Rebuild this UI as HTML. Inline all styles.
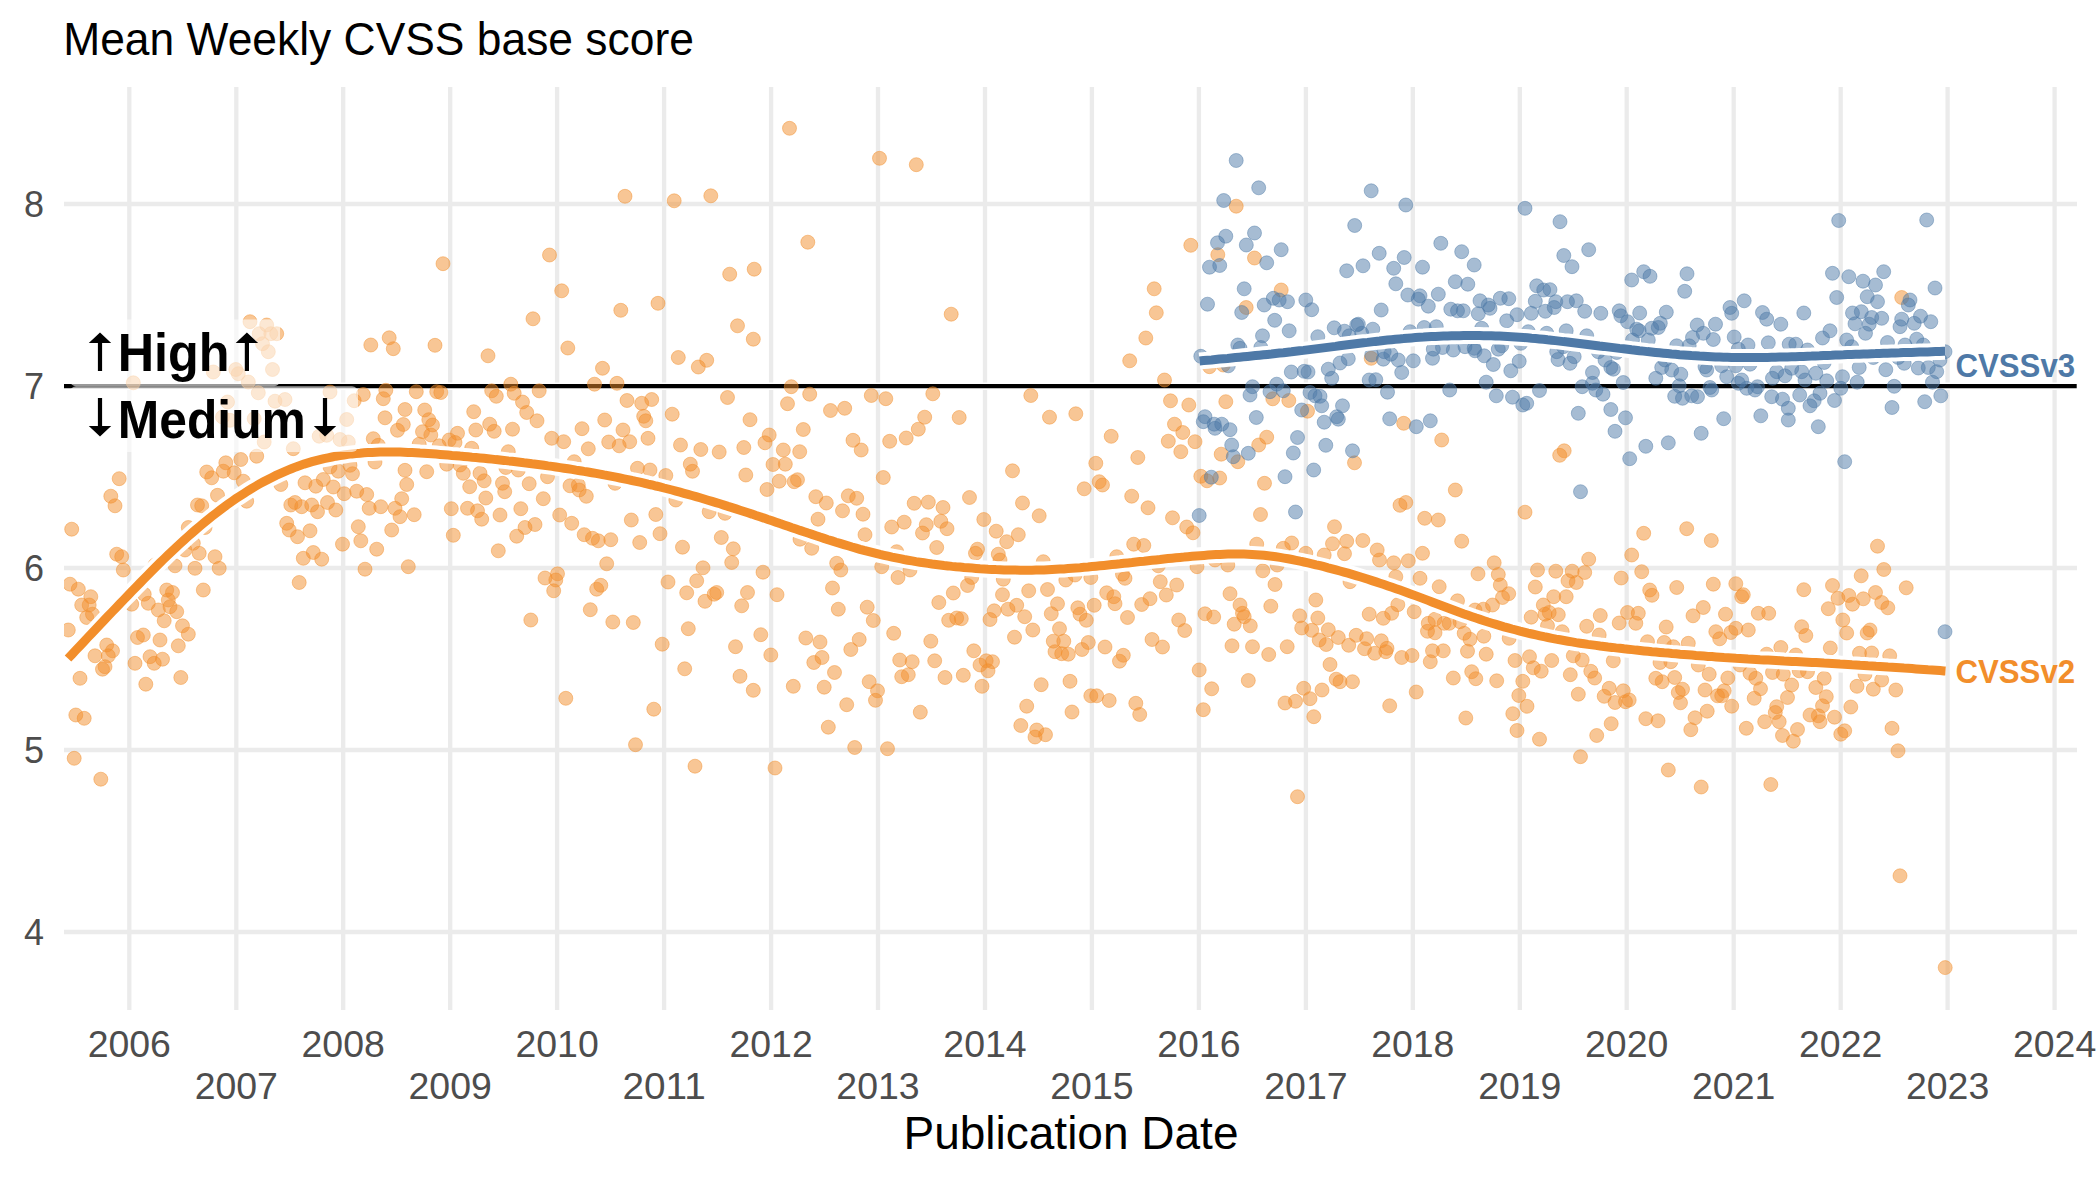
<!DOCTYPE html><html><head><meta charset="utf-8"><style>html,body{margin:0;padding:0;background:#fff;overflow:hidden}</style></head><body><svg width="2100" height="1181" viewBox="0 0 2100 1181" style="display:block">
<defs><clipPath id="pc"><rect x="64" y="87" width="2013" height="923"/></clipPath></defs>
<rect width="2100" height="1181" fill="#fff"/>
<path d="M64,932.0H2077 M64,750.0H2077 M64,568.0H2077 M64,386.0H2077 M64,204.0H2077 M129.3,87V1010 M236.3,87V1010 M343.2,87V1010 M450.2,87V1010 M557.1,87V1010 M664.1,87V1010 M771.1,87V1010 M878.0,87V1010 M985.0,87V1010 M1091.9,87V1010 M1198.9,87V1010 M1305.9,87V1010 M1412.8,87V1010 M1519.8,87V1010 M1626.7,87V1010 M1733.7,87V1010 M1840.7,87V1010 M1947.6,87V1010 M2054.6,87V1010" stroke="#EBEBEB" stroke-width="4.3" fill="none"/>
<path d="M64,386.2H2076.7" stroke="#fff" stroke-width="7.6"/>
<path d="M64,386.2H2076.7" stroke="#000" stroke-width="4.3"/>
<g clip-path="url(#pc)">
<g fill="#F28E2B" fill-opacity="0.5" stroke="#F28E2B" stroke-opacity="0.5" stroke-width="0.9"><circle cx="250.0" cy="321.7" r="7.0"/><circle cx="266.7" cy="325.0" r="7.0"/><circle cx="259.2" cy="333.7" r="7.0"/><circle cx="270.8" cy="333.7" r="7.0"/><circle cx="276.7" cy="333.7" r="7.0"/><circle cx="262.5" cy="343.7" r="7.0"/><circle cx="268.3" cy="351.7" r="7.0"/><circle cx="272.5" cy="369.5" r="7.0"/><circle cx="213.3" cy="372.0" r="7.0"/><circle cx="235.8" cy="369.5" r="7.0"/><circle cx="238.3" cy="373.7" r="7.0"/><circle cx="248.3" cy="382.0" r="7.0"/><circle cx="133.3" cy="382.8" r="7.0"/><circle cx="258.3" cy="392.8" r="7.0"/><circle cx="330.0" cy="392.0" r="7.0"/><circle cx="275.0" cy="401.2" r="7.0"/><circle cx="285.0" cy="399.5" r="7.0"/><circle cx="227.5" cy="402.0" r="7.0"/><circle cx="222.5" cy="417.0" r="7.0"/><circle cx="230.0" cy="420.3" r="7.0"/><circle cx="254.2" cy="418.7" r="7.0"/><circle cx="346.7" cy="419.5" r="7.0"/><circle cx="319.2" cy="436.2" r="7.0"/><circle cx="326.7" cy="435.3" r="7.0"/><circle cx="340.0" cy="439.5" r="7.0"/><circle cx="348.3" cy="442.0" r="7.0"/><circle cx="264.2" cy="442.0" r="7.0"/><circle cx="293.3" cy="448.7" r="7.0"/><circle cx="370.8" cy="345.0" r="7.0"/><circle cx="389.2" cy="337.8" r="7.0"/><circle cx="393.3" cy="348.7" r="7.0"/><circle cx="363.3" cy="394.5" r="7.0"/><circle cx="354.2" cy="400.7" r="7.0"/><circle cx="385.8" cy="390.3" r="7.0"/><circle cx="383.3" cy="398.7" r="7.0"/><circle cx="405.0" cy="409.5" r="7.0"/><circle cx="385.0" cy="417.8" r="7.0"/><circle cx="403.3" cy="424.5" r="7.0"/><circle cx="397.5" cy="430.3" r="7.0"/><circle cx="373.3" cy="438.7" r="7.0"/><circle cx="378.3" cy="445.3" r="7.0"/><circle cx="375.0" cy="462.0" r="7.0"/><circle cx="405.0" cy="470.3" r="7.0"/><circle cx="406.7" cy="484.5" r="7.0"/><circle cx="401.7" cy="498.7" r="7.0"/><circle cx="225.8" cy="462.8" r="7.0"/><circle cx="240.8" cy="459.5" r="7.0"/><circle cx="256.7" cy="456.2" r="7.0"/><circle cx="206.7" cy="472.0" r="7.0"/><circle cx="211.7" cy="477.8" r="7.0"/><circle cx="223.3" cy="471.2" r="7.0"/><circle cx="234.2" cy="472.8" r="7.0"/><circle cx="243.3" cy="481.2" r="7.0"/><circle cx="119.2" cy="478.7" r="7.0"/><circle cx="110.8" cy="496.2" r="7.0"/><circle cx="217.5" cy="495.3" r="7.0"/><circle cx="246.7" cy="501.2" r="7.0"/><circle cx="280.8" cy="484.5" r="7.0"/><circle cx="305.0" cy="482.8" r="7.0"/><circle cx="315.8" cy="486.2" r="7.0"/><circle cx="323.3" cy="479.5" r="7.0"/><circle cx="333.3" cy="487.0" r="7.0"/><circle cx="338.3" cy="471.2" r="7.0"/><circle cx="352.5" cy="473.7" r="7.0"/><circle cx="350.0" cy="465.3" r="7.0"/><circle cx="330.0" cy="467.0" r="7.0"/><circle cx="344.2" cy="493.7" r="7.0"/><circle cx="356.7" cy="491.2" r="7.0"/><circle cx="366.7" cy="494.5" r="7.0"/><circle cx="115.0" cy="505.8" r="7.0"/><circle cx="197.5" cy="505.0" r="7.0"/><circle cx="201.7" cy="505.8" r="7.0"/><circle cx="71.7" cy="529.2" r="7.0"/><circle cx="116.7" cy="554.2" r="7.0"/><circle cx="121.7" cy="556.7" r="7.0"/><circle cx="123.3" cy="570.0" r="7.0"/><circle cx="188.3" cy="527.5" r="7.0"/><circle cx="205.0" cy="527.5" r="7.0"/><circle cx="193.3" cy="543.3" r="7.0"/><circle cx="185.0" cy="550.0" r="7.0"/><circle cx="199.2" cy="553.3" r="7.0"/><circle cx="215.0" cy="556.7" r="7.0"/><circle cx="175.0" cy="565.8" r="7.0"/><circle cx="195.0" cy="568.3" r="7.0"/><circle cx="219.2" cy="568.3" r="7.0"/><circle cx="155.0" cy="565.0" r="7.0"/><circle cx="70.0" cy="584.2" r="7.0"/><circle cx="78.3" cy="589.2" r="7.0"/><circle cx="90.8" cy="596.7" r="7.0"/><circle cx="81.7" cy="605.0" r="7.0"/><circle cx="89.2" cy="605.0" r="7.0"/><circle cx="86.7" cy="617.5" r="7.0"/><circle cx="92.5" cy="614.2" r="7.0"/><circle cx="68.3" cy="630.0" r="7.0"/><circle cx="203.3" cy="590.0" r="7.0"/><circle cx="166.7" cy="590.0" r="7.0"/><circle cx="172.5" cy="592.5" r="7.0"/><circle cx="144.2" cy="594.2" r="7.0"/><circle cx="168.3" cy="600.0" r="7.0"/><circle cx="131.7" cy="604.2" r="7.0"/><circle cx="148.3" cy="603.3" r="7.0"/><circle cx="158.3" cy="610.0" r="7.0"/><circle cx="170.0" cy="606.7" r="7.0"/><circle cx="176.7" cy="611.7" r="7.0"/><circle cx="164.2" cy="620.8" r="7.0"/><circle cx="182.5" cy="625.8" r="7.0"/><circle cx="188.3" cy="634.2" r="7.0"/><circle cx="137.5" cy="637.5" r="7.0"/><circle cx="143.3" cy="635.0" r="7.0"/><circle cx="160.0" cy="640.0" r="7.0"/><circle cx="178.3" cy="645.8" r="7.0"/><circle cx="106.7" cy="645.0" r="7.0"/><circle cx="112.5" cy="650.8" r="7.0"/><circle cx="95.0" cy="655.8" r="7.0"/><circle cx="108.3" cy="655.8" r="7.0"/><circle cx="105.0" cy="666.7" r="7.0"/><circle cx="102.5" cy="669.2" r="7.0"/><circle cx="135.0" cy="663.3" r="7.0"/><circle cx="150.0" cy="656.7" r="7.0"/><circle cx="162.5" cy="659.2" r="7.0"/><circle cx="154.2" cy="663.3" r="7.0"/><circle cx="80.0" cy="678.3" r="7.0"/><circle cx="145.8" cy="684.2" r="7.0"/><circle cx="180.8" cy="677.5" r="7.0"/><circle cx="290.8" cy="505.0" r="7.0"/><circle cx="295.0" cy="502.5" r="7.0"/><circle cx="301.7" cy="506.7" r="7.0"/><circle cx="311.7" cy="505.0" r="7.0"/><circle cx="317.5" cy="511.7" r="7.0"/><circle cx="327.5" cy="502.5" r="7.0"/><circle cx="335.8" cy="510.0" r="7.0"/><circle cx="369.2" cy="508.3" r="7.0"/><circle cx="380.8" cy="506.7" r="7.0"/><circle cx="395.0" cy="508.3" r="7.0"/><circle cx="400.0" cy="516.7" r="7.0"/><circle cx="286.7" cy="523.3" r="7.0"/><circle cx="289.2" cy="530.0" r="7.0"/><circle cx="297.5" cy="536.7" r="7.0"/><circle cx="310.0" cy="530.8" r="7.0"/><circle cx="358.3" cy="526.7" r="7.0"/><circle cx="391.7" cy="530.0" r="7.0"/><circle cx="342.5" cy="544.2" r="7.0"/><circle cx="360.8" cy="540.8" r="7.0"/><circle cx="376.7" cy="549.2" r="7.0"/><circle cx="303.3" cy="558.3" r="7.0"/><circle cx="313.3" cy="552.5" r="7.0"/><circle cx="321.7" cy="559.2" r="7.0"/><circle cx="365.0" cy="569.2" r="7.0"/><circle cx="408.3" cy="566.7" r="7.0"/><circle cx="299.2" cy="582.5" r="7.0"/><circle cx="75.8" cy="715.0" r="7.0"/><circle cx="84.2" cy="718.3" r="7.0"/><circle cx="74.2" cy="758.3" r="7.0"/><circle cx="100.8" cy="779.2" r="7.0"/><circle cx="625.0" cy="196.3" r="7.0"/><circle cx="674.2" cy="200.8" r="7.0"/><circle cx="710.8" cy="195.8" r="7.0"/><circle cx="443.0" cy="263.7" r="7.0"/><circle cx="549.5" cy="255.0" r="7.0"/><circle cx="561.7" cy="290.8" r="7.0"/><circle cx="729.7" cy="274.2" r="7.0"/><circle cx="754.2" cy="269.2" r="7.0"/><circle cx="658.0" cy="303.3" r="7.0"/><circle cx="533.0" cy="318.8" r="7.0"/><circle cx="620.8" cy="310.3" r="7.0"/><circle cx="737.5" cy="325.8" r="7.0"/><circle cx="753.3" cy="339.2" r="7.0"/><circle cx="435.0" cy="345.3" r="7.0"/><circle cx="488.0" cy="355.8" r="7.0"/><circle cx="567.8" cy="348.0" r="7.0"/><circle cx="678.3" cy="357.5" r="7.0"/><circle cx="706.7" cy="360.3" r="7.0"/><circle cx="698.3" cy="367.0" r="7.0"/><circle cx="602.5" cy="368.3" r="7.0"/><circle cx="594.5" cy="384.2" r="7.0"/><circle cx="617.0" cy="383.3" r="7.0"/><circle cx="510.8" cy="384.2" r="7.0"/><circle cx="539.2" cy="390.8" r="7.0"/><circle cx="416.3" cy="391.7" r="7.0"/><circle cx="436.7" cy="391.7" r="7.0"/><circle cx="440.8" cy="392.5" r="7.0"/><circle cx="491.7" cy="390.8" r="7.0"/><circle cx="496.3" cy="396.3" r="7.0"/><circle cx="514.2" cy="393.3" r="7.0"/><circle cx="522.5" cy="402.0" r="7.0"/><circle cx="526.7" cy="412.5" r="7.0"/><circle cx="537.0" cy="420.8" r="7.0"/><circle cx="627.0" cy="400.5" r="7.0"/><circle cx="641.7" cy="403.3" r="7.0"/><circle cx="651.7" cy="399.5" r="7.0"/><circle cx="727.5" cy="397.5" r="7.0"/><circle cx="672.2" cy="414.2" r="7.0"/><circle cx="750.0" cy="419.7" r="7.0"/><circle cx="424.7" cy="410.0" r="7.0"/><circle cx="428.8" cy="419.7" r="7.0"/><circle cx="432.5" cy="425.0" r="7.0"/><circle cx="422.5" cy="431.7" r="7.0"/><circle cx="430.8" cy="435.0" r="7.0"/><circle cx="473.7" cy="411.7" r="7.0"/><circle cx="475.8" cy="430.0" r="7.0"/><circle cx="489.7" cy="424.2" r="7.0"/><circle cx="494.2" cy="431.3" r="7.0"/><circle cx="512.5" cy="429.2" r="7.0"/><circle cx="551.7" cy="438.3" r="7.0"/><circle cx="563.7" cy="441.7" r="7.0"/><circle cx="582.0" cy="428.7" r="7.0"/><circle cx="604.7" cy="420.0" r="7.0"/><circle cx="623.0" cy="430.0" r="7.0"/><circle cx="643.7" cy="416.3" r="7.0"/><circle cx="645.8" cy="420.8" r="7.0"/><circle cx="648.0" cy="438.3" r="7.0"/><circle cx="608.7" cy="442.0" r="7.0"/><circle cx="619.2" cy="445.8" r="7.0"/><circle cx="629.7" cy="441.7" r="7.0"/><circle cx="588.3" cy="448.8" r="7.0"/><circle cx="680.5" cy="445.0" r="7.0"/><circle cx="700.8" cy="449.5" r="7.0"/><circle cx="719.2" cy="452.0" r="7.0"/><circle cx="743.8" cy="447.5" r="7.0"/><circle cx="457.5" cy="433.3" r="7.0"/><circle cx="455.0" cy="442.5" r="7.0"/><circle cx="449.2" cy="440.0" r="7.0"/><circle cx="419.2" cy="444.2" r="7.0"/><circle cx="439.2" cy="445.8" r="7.0"/><circle cx="471.7" cy="448.3" r="7.0"/><circle cx="508.3" cy="451.7" r="7.0"/><circle cx="574.2" cy="461.7" r="7.0"/><circle cx="690.3" cy="464.2" r="7.0"/><circle cx="692.5" cy="471.3" r="7.0"/><circle cx="745.8" cy="475.0" r="7.0"/><circle cx="637.5" cy="468.3" r="7.0"/><circle cx="650.0" cy="470.0" r="7.0"/><circle cx="665.8" cy="475.5" r="7.0"/><circle cx="426.7" cy="471.7" r="7.0"/><circle cx="446.7" cy="464.2" r="7.0"/><circle cx="463.3" cy="473.3" r="7.0"/><circle cx="460.0" cy="465.0" r="7.0"/><circle cx="480.0" cy="473.3" r="7.0"/><circle cx="484.2" cy="480.8" r="7.0"/><circle cx="469.7" cy="486.7" r="7.0"/><circle cx="502.5" cy="483.3" r="7.0"/><circle cx="504.7" cy="491.7" r="7.0"/><circle cx="529.2" cy="483.7" r="7.0"/><circle cx="547.5" cy="476.7" r="7.0"/><circle cx="518.3" cy="470.0" r="7.0"/><circle cx="505.8" cy="467.5" r="7.0"/><circle cx="570.0" cy="485.8" r="7.0"/><circle cx="578.3" cy="485.0" r="7.0"/><circle cx="579.2" cy="490.0" r="7.0"/><circle cx="615.0" cy="483.3" r="7.0"/><circle cx="485.8" cy="498.0" r="7.0"/><circle cx="543.3" cy="498.7" r="7.0"/><circle cx="586.3" cy="496.3" r="7.0"/><circle cx="414.2" cy="514.7" r="7.0"/><circle cx="451.3" cy="508.7" r="7.0"/><circle cx="467.5" cy="508.3" r="7.0"/><circle cx="477.5" cy="510.8" r="7.0"/><circle cx="481.7" cy="519.2" r="7.0"/><circle cx="500.0" cy="515.0" r="7.0"/><circle cx="520.8" cy="508.7" r="7.0"/><circle cx="535.0" cy="524.5" r="7.0"/><circle cx="525.0" cy="527.5" r="7.0"/><circle cx="516.7" cy="536.2" r="7.0"/><circle cx="498.3" cy="550.8" r="7.0"/><circle cx="453.3" cy="535.3" r="7.0"/><circle cx="559.7" cy="515.0" r="7.0"/><circle cx="571.7" cy="523.3" r="7.0"/><circle cx="584.2" cy="534.7" r="7.0"/><circle cx="592.5" cy="538.3" r="7.0"/><circle cx="598.3" cy="540.8" r="7.0"/><circle cx="610.8" cy="539.7" r="7.0"/><circle cx="631.3" cy="520.0" r="7.0"/><circle cx="655.8" cy="514.5" r="7.0"/><circle cx="660.0" cy="533.7" r="7.0"/><circle cx="639.7" cy="542.5" r="7.0"/><circle cx="675.8" cy="500.0" r="7.0"/><circle cx="709.2" cy="511.7" r="7.0"/><circle cx="725.0" cy="513.3" r="7.0"/><circle cx="682.5" cy="547.2" r="7.0"/><circle cx="721.3" cy="537.5" r="7.0"/><circle cx="733.3" cy="548.8" r="7.0"/><circle cx="731.7" cy="562.5" r="7.0"/><circle cx="606.7" cy="563.8" r="7.0"/><circle cx="703.0" cy="567.8" r="7.0"/><circle cx="696.7" cy="580.8" r="7.0"/><circle cx="668.0" cy="582.0" r="7.0"/><circle cx="686.7" cy="592.8" r="7.0"/><circle cx="705.0" cy="601.3" r="7.0"/><circle cx="714.2" cy="594.2" r="7.0"/><circle cx="716.7" cy="592.5" r="7.0"/><circle cx="747.5" cy="592.5" r="7.0"/><circle cx="741.7" cy="605.8" r="7.0"/><circle cx="545.0" cy="578.0" r="7.0"/><circle cx="557.5" cy="573.8" r="7.0"/><circle cx="555.8" cy="580.0" r="7.0"/><circle cx="553.7" cy="590.8" r="7.0"/><circle cx="600.8" cy="585.3" r="7.0"/><circle cx="596.7" cy="589.2" r="7.0"/><circle cx="590.3" cy="609.7" r="7.0"/><circle cx="530.8" cy="620.0" r="7.0"/><circle cx="612.8" cy="622.0" r="7.0"/><circle cx="633.3" cy="622.5" r="7.0"/><circle cx="688.3" cy="628.7" r="7.0"/><circle cx="662.2" cy="644.2" r="7.0"/><circle cx="735.5" cy="646.7" r="7.0"/><circle cx="684.7" cy="668.8" r="7.0"/><circle cx="740.0" cy="676.3" r="7.0"/><circle cx="565.8" cy="698.3" r="7.0"/><circle cx="653.8" cy="709.2" r="7.0"/><circle cx="635.5" cy="744.7" r="7.0"/><circle cx="695.0" cy="766.2" r="7.0"/><circle cx="753.3" cy="690.3" r="7.0"/><circle cx="789.5" cy="128.3" r="7.0"/><circle cx="879.5" cy="158.3" r="7.0"/><circle cx="916.3" cy="164.7" r="7.0"/><circle cx="807.8" cy="242.2" r="7.0"/><circle cx="951.2" cy="314.2" r="7.0"/><circle cx="791.3" cy="386.7" r="7.0"/><circle cx="809.7" cy="394.2" r="7.0"/><circle cx="787.5" cy="403.7" r="7.0"/><circle cx="830.5" cy="410.5" r="7.0"/><circle cx="844.7" cy="408.3" r="7.0"/><circle cx="871.3" cy="395.5" r="7.0"/><circle cx="885.8" cy="398.7" r="7.0"/><circle cx="932.8" cy="393.8" r="7.0"/><circle cx="924.7" cy="417.2" r="7.0"/><circle cx="918.3" cy="429.2" r="7.0"/><circle cx="906.2" cy="438.0" r="7.0"/><circle cx="889.7" cy="441.3" r="7.0"/><circle cx="959.2" cy="417.5" r="7.0"/><circle cx="1030.8" cy="395.5" r="7.0"/><circle cx="1049.5" cy="417.2" r="7.0"/><circle cx="1075.8" cy="413.8" r="7.0"/><circle cx="803.3" cy="429.5" r="7.0"/><circle cx="769.2" cy="435.0" r="7.0"/><circle cx="765.0" cy="442.8" r="7.0"/><circle cx="853.0" cy="440.3" r="7.0"/><circle cx="861.2" cy="450.0" r="7.0"/><circle cx="783.3" cy="450.0" r="7.0"/><circle cx="799.7" cy="451.7" r="7.0"/><circle cx="773.0" cy="464.5" r="7.0"/><circle cx="785.3" cy="464.2" r="7.0"/><circle cx="779.2" cy="481.2" r="7.0"/><circle cx="794.2" cy="481.7" r="7.0"/><circle cx="797.5" cy="479.7" r="7.0"/><circle cx="767.0" cy="489.5" r="7.0"/><circle cx="883.3" cy="477.5" r="7.0"/><circle cx="1012.5" cy="470.8" r="7.0"/><circle cx="1084.2" cy="488.8" r="7.0"/><circle cx="1095.8" cy="463.3" r="7.0"/><circle cx="815.8" cy="496.7" r="7.0"/><circle cx="826.3" cy="503.0" r="7.0"/><circle cx="848.3" cy="495.8" r="7.0"/><circle cx="856.7" cy="498.3" r="7.0"/><circle cx="842.5" cy="510.8" r="7.0"/><circle cx="863.0" cy="514.2" r="7.0"/><circle cx="818.0" cy="519.2" r="7.0"/><circle cx="865.0" cy="534.7" r="7.0"/><circle cx="969.5" cy="497.5" r="7.0"/><circle cx="914.2" cy="503.3" r="7.0"/><circle cx="928.3" cy="502.2" r="7.0"/><circle cx="943.0" cy="507.5" r="7.0"/><circle cx="904.2" cy="522.2" r="7.0"/><circle cx="891.7" cy="527.0" r="7.0"/><circle cx="926.3" cy="524.7" r="7.0"/><circle cx="922.5" cy="533.0" r="7.0"/><circle cx="940.8" cy="521.3" r="7.0"/><circle cx="947.0" cy="528.7" r="7.0"/><circle cx="936.7" cy="547.5" r="7.0"/><circle cx="983.8" cy="519.5" r="7.0"/><circle cx="1022.5" cy="503.0" r="7.0"/><circle cx="1039.2" cy="515.8" r="7.0"/><circle cx="996.2" cy="531.2" r="7.0"/><circle cx="1018.3" cy="534.7" r="7.0"/><circle cx="1006.7" cy="541.7" r="7.0"/><circle cx="977.5" cy="549.2" r="7.0"/><circle cx="975.5" cy="553.3" r="7.0"/><circle cx="998.3" cy="554.2" r="7.0"/><circle cx="1000.0" cy="560.0" r="7.0"/><circle cx="1003.3" cy="579.2" r="7.0"/><circle cx="800.0" cy="539.2" r="7.0"/><circle cx="811.7" cy="548.3" r="7.0"/><circle cx="836.7" cy="563.3" r="7.0"/><circle cx="840.8" cy="570.0" r="7.0"/><circle cx="881.7" cy="566.7" r="7.0"/><circle cx="910.0" cy="570.0" r="7.0"/><circle cx="898.0" cy="577.5" r="7.0"/><circle cx="896.7" cy="551.7" r="7.0"/><circle cx="763.0" cy="572.2" r="7.0"/><circle cx="777.0" cy="594.7" r="7.0"/><circle cx="832.5" cy="588.0" r="7.0"/><circle cx="838.3" cy="609.2" r="7.0"/><circle cx="867.2" cy="607.2" r="7.0"/><circle cx="873.3" cy="620.5" r="7.0"/><circle cx="938.8" cy="602.5" r="7.0"/><circle cx="953.3" cy="593.0" r="7.0"/><circle cx="967.5" cy="585.5" r="7.0"/><circle cx="971.7" cy="577.5" r="7.0"/><circle cx="1002.5" cy="594.7" r="7.0"/><circle cx="1028.7" cy="590.8" r="7.0"/><circle cx="1047.5" cy="589.5" r="7.0"/><circle cx="1065.8" cy="580.0" r="7.0"/><circle cx="1075.0" cy="575.0" r="7.0"/><circle cx="1090.8" cy="577.5" r="7.0"/><circle cx="1043.3" cy="561.7" r="7.0"/><circle cx="994.2" cy="610.8" r="7.0"/><circle cx="1008.0" cy="609.2" r="7.0"/><circle cx="1016.7" cy="605.3" r="7.0"/><circle cx="1024.7" cy="616.7" r="7.0"/><circle cx="990.0" cy="619.5" r="7.0"/><circle cx="1032.8" cy="630.0" r="7.0"/><circle cx="1014.5" cy="637.2" r="7.0"/><circle cx="948.7" cy="620.3" r="7.0"/><circle cx="956.7" cy="618.0" r="7.0"/><circle cx="961.3" cy="618.7" r="7.0"/><circle cx="760.8" cy="634.7" r="7.0"/><circle cx="805.8" cy="638.0" r="7.0"/><circle cx="820.0" cy="642.0" r="7.0"/><circle cx="859.2" cy="639.5" r="7.0"/><circle cx="850.8" cy="649.5" r="7.0"/><circle cx="893.7" cy="633.3" r="7.0"/><circle cx="930.8" cy="641.2" r="7.0"/><circle cx="770.8" cy="655.0" r="7.0"/><circle cx="822.0" cy="657.5" r="7.0"/><circle cx="813.8" cy="662.5" r="7.0"/><circle cx="834.5" cy="672.5" r="7.0"/><circle cx="899.7" cy="660.0" r="7.0"/><circle cx="912.2" cy="661.7" r="7.0"/><circle cx="934.7" cy="660.8" r="7.0"/><circle cx="908.3" cy="674.7" r="7.0"/><circle cx="901.7" cy="676.7" r="7.0"/><circle cx="973.8" cy="650.8" r="7.0"/><circle cx="986.2" cy="660.8" r="7.0"/><circle cx="992.5" cy="661.7" r="7.0"/><circle cx="980.0" cy="665.0" r="7.0"/><circle cx="988.0" cy="670.8" r="7.0"/><circle cx="945.0" cy="677.5" r="7.0"/><circle cx="963.3" cy="675.3" r="7.0"/><circle cx="1057.5" cy="603.8" r="7.0"/><circle cx="1051.3" cy="613.7" r="7.0"/><circle cx="1077.8" cy="607.8" r="7.0"/><circle cx="1080.0" cy="614.2" r="7.0"/><circle cx="1086.3" cy="620.3" r="7.0"/><circle cx="1094.2" cy="605.3" r="7.0"/><circle cx="1059.5" cy="628.7" r="7.0"/><circle cx="1053.3" cy="641.2" r="7.0"/><circle cx="1063.8" cy="641.2" r="7.0"/><circle cx="1055.0" cy="651.7" r="7.0"/><circle cx="1061.7" cy="653.7" r="7.0"/><circle cx="1068.3" cy="654.2" r="7.0"/><circle cx="1082.0" cy="649.5" r="7.0"/><circle cx="1088.3" cy="642.5" r="7.0"/><circle cx="869.2" cy="681.7" r="7.0"/><circle cx="1070.0" cy="681.3" r="7.0"/><circle cx="793.3" cy="686.3" r="7.0"/><circle cx="824.2" cy="687.2" r="7.0"/><circle cx="877.5" cy="690.8" r="7.0"/><circle cx="875.5" cy="700.3" r="7.0"/><circle cx="846.7" cy="704.7" r="7.0"/><circle cx="828.3" cy="727.2" r="7.0"/><circle cx="854.7" cy="747.5" r="7.0"/><circle cx="887.5" cy="748.7" r="7.0"/><circle cx="775.0" cy="768.0" r="7.0"/><circle cx="920.3" cy="712.2" r="7.0"/><circle cx="982.0" cy="686.3" r="7.0"/><circle cx="1041.2" cy="684.7" r="7.0"/><circle cx="1026.7" cy="706.2" r="7.0"/><circle cx="1072.0" cy="712.0" r="7.0"/><circle cx="1020.8" cy="725.5" r="7.0"/><circle cx="1036.7" cy="730.0" r="7.0"/><circle cx="1045.5" cy="734.7" r="7.0"/><circle cx="1035.0" cy="737.0" r="7.0"/><circle cx="1090.8" cy="695.8" r="7.0"/><circle cx="1096.7" cy="695.8" r="7.0"/><circle cx="1236.2" cy="206.2" r="7.0"/><circle cx="1190.8" cy="245.3" r="7.0"/><circle cx="1217.8" cy="254.7" r="7.0"/><circle cx="1254.5" cy="258.0" r="7.0"/><circle cx="1154.2" cy="288.8" r="7.0"/><circle cx="1281.2" cy="290.0" r="7.0"/><circle cx="1156.3" cy="312.8" r="7.0"/><circle cx="1145.8" cy="338.0" r="7.0"/><circle cx="1129.7" cy="360.8" r="7.0"/><circle cx="1164.5" cy="380.0" r="7.0"/><circle cx="1246.2" cy="307.5" r="7.0"/><circle cx="1170.5" cy="400.8" r="7.0"/><circle cx="1188.8" cy="405.0" r="7.0"/><circle cx="1225.8" cy="401.7" r="7.0"/><circle cx="1272.8" cy="398.8" r="7.0"/><circle cx="1288.8" cy="400.5" r="7.0"/><circle cx="1307.5" cy="411.2" r="7.0"/><circle cx="1174.5" cy="424.2" r="7.0"/><circle cx="1182.8" cy="432.5" r="7.0"/><circle cx="1111.2" cy="436.3" r="7.0"/><circle cx="1168.3" cy="441.2" r="7.0"/><circle cx="1195.0" cy="441.7" r="7.0"/><circle cx="1180.8" cy="451.7" r="7.0"/><circle cx="1137.8" cy="457.5" r="7.0"/><circle cx="1221.2" cy="454.2" r="7.0"/><circle cx="1258.7" cy="445.0" r="7.0"/><circle cx="1266.7" cy="437.2" r="7.0"/><circle cx="1237.8" cy="461.7" r="7.0"/><circle cx="1200.8" cy="476.3" r="7.0"/><circle cx="1207.0" cy="480.8" r="7.0"/><circle cx="1219.7" cy="478.0" r="7.0"/><circle cx="1264.5" cy="483.3" r="7.0"/><circle cx="1354.5" cy="462.8" r="7.0"/><circle cx="1403.7" cy="423.3" r="7.0"/><circle cx="1371.2" cy="358.3" r="7.0"/><circle cx="1441.7" cy="440.0" r="7.0"/><circle cx="1209.5" cy="366.7" r="7.0"/><circle cx="1223.3" cy="365.0" r="7.0"/><circle cx="1099.2" cy="481.7" r="7.0"/><circle cx="1102.5" cy="485.0" r="7.0"/><circle cx="1131.7" cy="496.2" r="7.0"/><circle cx="1148.0" cy="507.8" r="7.0"/><circle cx="1172.5" cy="517.8" r="7.0"/><circle cx="1186.7" cy="527.0" r="7.0"/><circle cx="1193.0" cy="532.8" r="7.0"/><circle cx="1260.5" cy="514.5" r="7.0"/><circle cx="1334.5" cy="526.7" r="7.0"/><circle cx="1332.5" cy="543.7" r="7.0"/><circle cx="1346.7" cy="541.3" r="7.0"/><circle cx="1362.8" cy="540.5" r="7.0"/><circle cx="1344.5" cy="553.7" r="7.0"/><circle cx="1377.2" cy="550.0" r="7.0"/><circle cx="1379.5" cy="560.0" r="7.0"/><circle cx="1393.7" cy="562.8" r="7.0"/><circle cx="1408.3" cy="560.8" r="7.0"/><circle cx="1422.5" cy="553.3" r="7.0"/><circle cx="1400.0" cy="505.3" r="7.0"/><circle cx="1405.8" cy="502.5" r="7.0"/><circle cx="1424.7" cy="518.3" r="7.0"/><circle cx="1438.3" cy="520.0" r="7.0"/><circle cx="1133.7" cy="544.2" r="7.0"/><circle cx="1143.8" cy="545.5" r="7.0"/><circle cx="1116.7" cy="556.7" r="7.0"/><circle cx="1256.7" cy="544.2" r="7.0"/><circle cx="1291.7" cy="543.0" r="7.0"/><circle cx="1283.3" cy="548.3" r="7.0"/><circle cx="1305.8" cy="553.3" r="7.0"/><circle cx="1324.2" cy="555.0" r="7.0"/><circle cx="1158.3" cy="565.8" r="7.0"/><circle cx="1197.0" cy="566.7" r="7.0"/><circle cx="1215.0" cy="560.0" r="7.0"/><circle cx="1227.8" cy="565.0" r="7.0"/><circle cx="1277.2" cy="565.0" r="7.0"/><circle cx="1262.8" cy="570.8" r="7.0"/><circle cx="1275.0" cy="584.5" r="7.0"/><circle cx="1122.5" cy="574.2" r="7.0"/><circle cx="1125.0" cy="578.3" r="7.0"/><circle cx="1160.3" cy="581.7" r="7.0"/><circle cx="1176.7" cy="585.0" r="7.0"/><circle cx="1106.7" cy="592.8" r="7.0"/><circle cx="1113.8" cy="596.7" r="7.0"/><circle cx="1115.0" cy="603.7" r="7.0"/><circle cx="1141.7" cy="604.5" r="7.0"/><circle cx="1150.0" cy="598.7" r="7.0"/><circle cx="1166.3" cy="595.0" r="7.0"/><circle cx="1127.5" cy="617.5" r="7.0"/><circle cx="1178.7" cy="620.0" r="7.0"/><circle cx="1184.7" cy="630.5" r="7.0"/><circle cx="1230.0" cy="593.7" r="7.0"/><circle cx="1240.0" cy="605.0" r="7.0"/><circle cx="1242.5" cy="613.3" r="7.0"/><circle cx="1244.2" cy="616.7" r="7.0"/><circle cx="1234.2" cy="624.2" r="7.0"/><circle cx="1250.3" cy="625.8" r="7.0"/><circle cx="1205.0" cy="613.8" r="7.0"/><circle cx="1213.7" cy="617.0" r="7.0"/><circle cx="1270.8" cy="606.2" r="7.0"/><circle cx="1315.8" cy="600.0" r="7.0"/><circle cx="1299.7" cy="615.8" r="7.0"/><circle cx="1317.8" cy="618.0" r="7.0"/><circle cx="1301.7" cy="628.0" r="7.0"/><circle cx="1311.7" cy="630.3" r="7.0"/><circle cx="1328.3" cy="629.7" r="7.0"/><circle cx="1319.2" cy="640.0" r="7.0"/><circle cx="1326.2" cy="644.5" r="7.0"/><circle cx="1338.3" cy="637.5" r="7.0"/><circle cx="1348.7" cy="645.3" r="7.0"/><circle cx="1356.2" cy="635.3" r="7.0"/><circle cx="1366.7" cy="638.7" r="7.0"/><circle cx="1364.5" cy="648.7" r="7.0"/><circle cx="1374.7" cy="653.3" r="7.0"/><circle cx="1381.3" cy="640.8" r="7.0"/><circle cx="1387.0" cy="648.3" r="7.0"/><circle cx="1385.8" cy="651.7" r="7.0"/><circle cx="1369.2" cy="614.2" r="7.0"/><circle cx="1383.3" cy="618.3" r="7.0"/><circle cx="1391.7" cy="613.3" r="7.0"/><circle cx="1397.8" cy="604.7" r="7.0"/><circle cx="1414.2" cy="611.7" r="7.0"/><circle cx="1350.0" cy="581.7" r="7.0"/><circle cx="1395.8" cy="576.7" r="7.0"/><circle cx="1420.0" cy="578.3" r="7.0"/><circle cx="1439.2" cy="586.7" r="7.0"/><circle cx="1428.3" cy="623.3" r="7.0"/><circle cx="1435.0" cy="619.2" r="7.0"/><circle cx="1427.5" cy="631.3" r="7.0"/><circle cx="1435.0" cy="632.8" r="7.0"/><circle cx="1444.2" cy="623.3" r="7.0"/><circle cx="1105.0" cy="647.0" r="7.0"/><circle cx="1152.0" cy="639.5" r="7.0"/><circle cx="1162.5" cy="647.0" r="7.0"/><circle cx="1123.3" cy="655.3" r="7.0"/><circle cx="1119.5" cy="661.2" r="7.0"/><circle cx="1232.0" cy="645.8" r="7.0"/><circle cx="1252.5" cy="646.7" r="7.0"/><circle cx="1268.7" cy="654.5" r="7.0"/><circle cx="1287.2" cy="646.7" r="7.0"/><circle cx="1401.7" cy="657.5" r="7.0"/><circle cx="1412.0" cy="655.5" r="7.0"/><circle cx="1432.5" cy="650.8" r="7.0"/><circle cx="1430.3" cy="661.7" r="7.0"/><circle cx="1443.3" cy="650.8" r="7.0"/><circle cx="1199.2" cy="670.0" r="7.0"/><circle cx="1248.3" cy="680.5" r="7.0"/><circle cx="1330.0" cy="664.5" r="7.0"/><circle cx="1336.2" cy="679.2" r="7.0"/><circle cx="1340.0" cy="681.7" r="7.0"/><circle cx="1352.5" cy="681.7" r="7.0"/><circle cx="1109.2" cy="700.5" r="7.0"/><circle cx="1135.8" cy="703.3" r="7.0"/><circle cx="1139.7" cy="714.5" r="7.0"/><circle cx="1203.3" cy="709.7" r="7.0"/><circle cx="1211.7" cy="688.8" r="7.0"/><circle cx="1285.0" cy="703.0" r="7.0"/><circle cx="1295.5" cy="701.3" r="7.0"/><circle cx="1303.7" cy="688.3" r="7.0"/><circle cx="1310.0" cy="698.7" r="7.0"/><circle cx="1313.8" cy="716.7" r="7.0"/><circle cx="1322.0" cy="690.0" r="7.0"/><circle cx="1389.7" cy="705.8" r="7.0"/><circle cx="1416.2" cy="692.0" r="7.0"/><circle cx="1297.5" cy="796.7" r="7.0"/><circle cx="1564.2" cy="450.8" r="7.0"/><circle cx="1559.7" cy="455.3" r="7.0"/><circle cx="1455.3" cy="490.0" r="7.0"/><circle cx="1525.0" cy="512.2" r="7.0"/><circle cx="1461.7" cy="541.2" r="7.0"/><circle cx="1643.7" cy="533.3" r="7.0"/><circle cx="1686.7" cy="528.7" r="7.0"/><circle cx="1711.3" cy="540.5" r="7.0"/><circle cx="1631.7" cy="555.0" r="7.0"/><circle cx="1588.7" cy="559.2" r="7.0"/><circle cx="1494.2" cy="562.8" r="7.0"/><circle cx="1478.0" cy="573.8" r="7.0"/><circle cx="1498.3" cy="574.5" r="7.0"/><circle cx="1500.3" cy="585.0" r="7.0"/><circle cx="1508.7" cy="593.7" r="7.0"/><circle cx="1502.5" cy="597.5" r="7.0"/><circle cx="1537.5" cy="570.0" r="7.0"/><circle cx="1555.8" cy="571.2" r="7.0"/><circle cx="1572.2" cy="571.2" r="7.0"/><circle cx="1584.7" cy="572.5" r="7.0"/><circle cx="1568.0" cy="580.8" r="7.0"/><circle cx="1576.3" cy="582.5" r="7.0"/><circle cx="1535.3" cy="587.0" r="7.0"/><circle cx="1553.7" cy="596.7" r="7.0"/><circle cx="1566.2" cy="596.7" r="7.0"/><circle cx="1621.2" cy="578.0" r="7.0"/><circle cx="1641.7" cy="571.7" r="7.0"/><circle cx="1649.7" cy="590.0" r="7.0"/><circle cx="1652.0" cy="595.3" r="7.0"/><circle cx="1676.7" cy="587.5" r="7.0"/><circle cx="1713.3" cy="584.2" r="7.0"/><circle cx="1735.8" cy="583.7" r="7.0"/><circle cx="1743.3" cy="594.7" r="7.0"/><circle cx="1741.7" cy="596.7" r="7.0"/><circle cx="1457.5" cy="600.8" r="7.0"/><circle cx="1475.0" cy="610.0" r="7.0"/><circle cx="1483.3" cy="609.2" r="7.0"/><circle cx="1492.5" cy="605.0" r="7.0"/><circle cx="1543.3" cy="605.0" r="7.0"/><circle cx="1549.2" cy="612.5" r="7.0"/><circle cx="1558.3" cy="614.7" r="7.0"/><circle cx="1545.0" cy="614.2" r="7.0"/><circle cx="1531.2" cy="617.2" r="7.0"/><circle cx="1547.5" cy="625.8" r="7.0"/><circle cx="1562.2" cy="631.7" r="7.0"/><circle cx="1600.3" cy="615.5" r="7.0"/><circle cx="1586.7" cy="626.3" r="7.0"/><circle cx="1599.2" cy="635.0" r="7.0"/><circle cx="1627.5" cy="612.5" r="7.0"/><circle cx="1638.3" cy="613.3" r="7.0"/><circle cx="1635.8" cy="623.3" r="7.0"/><circle cx="1619.2" cy="623.0" r="7.0"/><circle cx="1666.2" cy="627.0" r="7.0"/><circle cx="1693.0" cy="615.8" r="7.0"/><circle cx="1703.3" cy="607.5" r="7.0"/><circle cx="1725.5" cy="614.2" r="7.0"/><circle cx="1715.8" cy="631.7" r="7.0"/><circle cx="1719.7" cy="638.8" r="7.0"/><circle cx="1730.8" cy="632.5" r="7.0"/><circle cx="1735.8" cy="628.3" r="7.0"/><circle cx="1748.3" cy="630.0" r="7.0"/><circle cx="1758.3" cy="613.3" r="7.0"/><circle cx="1768.7" cy="613.3" r="7.0"/><circle cx="1780.8" cy="647.5" r="7.0"/><circle cx="1766.7" cy="654.2" r="7.0"/><circle cx="1449.2" cy="623.3" r="7.0"/><circle cx="1460.0" cy="621.7" r="7.0"/><circle cx="1464.2" cy="633.3" r="7.0"/><circle cx="1470.0" cy="639.2" r="7.0"/><circle cx="1483.8" cy="636.2" r="7.0"/><circle cx="1509.2" cy="638.3" r="7.0"/><circle cx="1467.5" cy="651.2" r="7.0"/><circle cx="1486.2" cy="654.2" r="7.0"/><circle cx="1647.5" cy="641.7" r="7.0"/><circle cx="1664.2" cy="642.5" r="7.0"/><circle cx="1688.3" cy="643.3" r="7.0"/><circle cx="1673.3" cy="646.7" r="7.0"/><circle cx="1515.0" cy="660.5" r="7.0"/><circle cx="1529.5" cy="656.7" r="7.0"/><circle cx="1533.3" cy="667.8" r="7.0"/><circle cx="1541.2" cy="671.2" r="7.0"/><circle cx="1551.7" cy="660.5" r="7.0"/><circle cx="1573.3" cy="655.8" r="7.0"/><circle cx="1582.2" cy="660.0" r="7.0"/><circle cx="1613.3" cy="660.8" r="7.0"/><circle cx="1660.0" cy="662.5" r="7.0"/><circle cx="1670.8" cy="661.7" r="7.0"/><circle cx="1698.3" cy="665.0" r="7.0"/><circle cx="1740.0" cy="665.0" r="7.0"/><circle cx="1471.7" cy="671.7" r="7.0"/><circle cx="1475.8" cy="678.7" r="7.0"/><circle cx="1453.3" cy="678.0" r="7.0"/><circle cx="1496.7" cy="680.8" r="7.0"/><circle cx="1522.8" cy="681.3" r="7.0"/><circle cx="1570.3" cy="674.7" r="7.0"/><circle cx="1590.8" cy="671.3" r="7.0"/><circle cx="1594.7" cy="678.0" r="7.0"/><circle cx="1655.8" cy="678.3" r="7.0"/><circle cx="1662.2" cy="681.7" r="7.0"/><circle cx="1674.7" cy="677.5" r="7.0"/><circle cx="1709.2" cy="674.2" r="7.0"/><circle cx="1727.8" cy="678.0" r="7.0"/><circle cx="1750.0" cy="673.3" r="7.0"/><circle cx="1755.8" cy="678.3" r="7.0"/><circle cx="1772.5" cy="672.5" r="7.0"/><circle cx="1783.3" cy="674.2" r="7.0"/><circle cx="1609.2" cy="688.3" r="7.0"/><circle cx="1623.3" cy="690.8" r="7.0"/><circle cx="1682.5" cy="689.2" r="7.0"/><circle cx="1705.0" cy="690.0" r="7.0"/><circle cx="1724.2" cy="690.8" r="7.0"/><circle cx="1760.5" cy="688.7" r="7.0"/><circle cx="1518.8" cy="695.5" r="7.0"/><circle cx="1527.0" cy="706.3" r="7.0"/><circle cx="1512.8" cy="713.7" r="7.0"/><circle cx="1517.0" cy="730.5" r="7.0"/><circle cx="1539.5" cy="739.2" r="7.0"/><circle cx="1465.8" cy="718.0" r="7.0"/><circle cx="1578.3" cy="694.2" r="7.0"/><circle cx="1604.2" cy="696.3" r="7.0"/><circle cx="1615.0" cy="702.5" r="7.0"/><circle cx="1625.5" cy="701.7" r="7.0"/><circle cx="1629.2" cy="700.0" r="7.0"/><circle cx="1611.2" cy="723.7" r="7.0"/><circle cx="1596.7" cy="735.5" r="7.0"/><circle cx="1580.5" cy="756.7" r="7.0"/><circle cx="1645.8" cy="718.7" r="7.0"/><circle cx="1658.0" cy="720.8" r="7.0"/><circle cx="1678.3" cy="692.5" r="7.0"/><circle cx="1680.5" cy="702.8" r="7.0"/><circle cx="1695.0" cy="717.8" r="7.0"/><circle cx="1707.2" cy="711.2" r="7.0"/><circle cx="1690.8" cy="729.7" r="7.0"/><circle cx="1717.5" cy="695.8" r="7.0"/><circle cx="1721.7" cy="695.8" r="7.0"/><circle cx="1731.7" cy="706.2" r="7.0"/><circle cx="1754.2" cy="698.3" r="7.0"/><circle cx="1746.3" cy="728.3" r="7.0"/><circle cx="1764.7" cy="721.7" r="7.0"/><circle cx="1776.7" cy="706.7" r="7.0"/><circle cx="1775.3" cy="712.5" r="7.0"/><circle cx="1779.2" cy="721.7" r="7.0"/><circle cx="1782.5" cy="735.5" r="7.0"/><circle cx="1787.5" cy="697.5" r="7.0"/><circle cx="1668.3" cy="770.0" r="7.0"/><circle cx="1701.2" cy="787.0" r="7.0"/><circle cx="1770.8" cy="784.5" r="7.0"/><circle cx="1901.7" cy="297.5" r="7.0"/><circle cx="1877.5" cy="546.2" r="7.0"/><circle cx="1883.8" cy="569.5" r="7.0"/><circle cx="1861.2" cy="575.8" r="7.0"/><circle cx="1906.2" cy="587.8" r="7.0"/><circle cx="1803.8" cy="589.7" r="7.0"/><circle cx="1832.5" cy="585.5" r="7.0"/><circle cx="1848.8" cy="595.5" r="7.0"/><circle cx="1838.0" cy="598.3" r="7.0"/><circle cx="1828.3" cy="608.7" r="7.0"/><circle cx="1852.5" cy="604.2" r="7.0"/><circle cx="1863.3" cy="598.8" r="7.0"/><circle cx="1875.5" cy="592.5" r="7.0"/><circle cx="1881.7" cy="602.5" r="7.0"/><circle cx="1887.8" cy="607.8" r="7.0"/><circle cx="1842.8" cy="620.0" r="7.0"/><circle cx="1846.7" cy="633.0" r="7.0"/><circle cx="1801.7" cy="626.7" r="7.0"/><circle cx="1805.8" cy="635.5" r="7.0"/><circle cx="1867.2" cy="633.0" r="7.0"/><circle cx="1870.0" cy="630.0" r="7.0"/><circle cx="1830.3" cy="648.0" r="7.0"/><circle cx="1859.5" cy="653.3" r="7.0"/><circle cx="1871.7" cy="653.0" r="7.0"/><circle cx="1889.7" cy="655.8" r="7.0"/><circle cx="1795.8" cy="655.0" r="7.0"/><circle cx="1799.2" cy="670.8" r="7.0"/><circle cx="1807.5" cy="671.7" r="7.0"/><circle cx="1865.0" cy="674.2" r="7.0"/><circle cx="1824.2" cy="678.3" r="7.0"/><circle cx="1881.7" cy="680.0" r="7.0"/><circle cx="1791.7" cy="685.0" r="7.0"/><circle cx="1815.8" cy="687.5" r="7.0"/><circle cx="1826.3" cy="696.7" r="7.0"/><circle cx="1822.5" cy="705.8" r="7.0"/><circle cx="1810.0" cy="715.0" r="7.0"/><circle cx="1818.3" cy="715.8" r="7.0"/><circle cx="1820.0" cy="721.7" r="7.0"/><circle cx="1834.5" cy="717.2" r="7.0"/><circle cx="1850.8" cy="707.0" r="7.0"/><circle cx="1797.5" cy="729.5" r="7.0"/><circle cx="1793.3" cy="741.2" r="7.0"/><circle cx="1844.7" cy="730.8" r="7.0"/><circle cx="1840.8" cy="734.2" r="7.0"/><circle cx="1857.0" cy="686.3" r="7.0"/><circle cx="1873.3" cy="689.2" r="7.0"/><circle cx="1895.8" cy="690.0" r="7.0"/><circle cx="1892.0" cy="728.3" r="7.0"/><circle cx="1898.0" cy="750.8" r="7.0"/><circle cx="1900.0" cy="875.8" r="7.0"/><circle cx="1945.2" cy="967.6" r="7.0"/></g>
<g fill="#4E79A7" fill-opacity="0.5" stroke="#4E79A7" stroke-opacity="0.5" stroke-width="0.9"><circle cx="1236.2" cy="160.5" r="7.0"/><circle cx="1258.7" cy="187.8" r="7.0"/><circle cx="1223.7" cy="200.5" r="7.0"/><circle cx="1371.2" cy="190.8" r="7.0"/><circle cx="1405.8" cy="205.0" r="7.0"/><circle cx="1354.7" cy="225.5" r="7.0"/><circle cx="1225.8" cy="236.2" r="7.0"/><circle cx="1217.5" cy="242.8" r="7.0"/><circle cx="1246.3" cy="245.0" r="7.0"/><circle cx="1254.5" cy="233.0" r="7.0"/><circle cx="1281.2" cy="249.7" r="7.0"/><circle cx="1266.7" cy="262.8" r="7.0"/><circle cx="1209.5" cy="267.2" r="7.0"/><circle cx="1219.7" cy="265.5" r="7.0"/><circle cx="1244.2" cy="288.8" r="7.0"/><circle cx="1346.7" cy="270.8" r="7.0"/><circle cx="1363.0" cy="265.8" r="7.0"/><circle cx="1379.2" cy="253.3" r="7.0"/><circle cx="1404.2" cy="257.5" r="7.0"/><circle cx="1393.7" cy="268.3" r="7.0"/><circle cx="1422.5" cy="267.2" r="7.0"/><circle cx="1440.8" cy="243.3" r="7.0"/><circle cx="1395.8" cy="283.8" r="7.0"/><circle cx="1407.8" cy="295.0" r="7.0"/><circle cx="1420.0" cy="295.8" r="7.0"/><circle cx="1418.3" cy="299.2" r="7.0"/><circle cx="1438.3" cy="294.2" r="7.0"/><circle cx="1305.8" cy="300.0" r="7.0"/><circle cx="1273.3" cy="298.3" r="7.0"/><circle cx="1279.2" cy="300.0" r="7.0"/><circle cx="1287.5" cy="301.7" r="7.0"/><circle cx="1207.5" cy="304.2" r="7.0"/><circle cx="1241.7" cy="312.5" r="7.0"/><circle cx="1264.2" cy="305.0" r="7.0"/><circle cx="1311.7" cy="309.7" r="7.0"/><circle cx="1381.2" cy="310.0" r="7.0"/><circle cx="1428.3" cy="306.2" r="7.0"/><circle cx="1274.7" cy="320.3" r="7.0"/><circle cx="1289.2" cy="330.8" r="7.0"/><circle cx="1262.5" cy="335.8" r="7.0"/><circle cx="1237.8" cy="345.0" r="7.0"/><circle cx="1240.0" cy="348.3" r="7.0"/><circle cx="1260.8" cy="347.5" r="7.0"/><circle cx="1200.8" cy="356.3" r="7.0"/><circle cx="1228.3" cy="365.8" r="7.0"/><circle cx="1317.8" cy="336.7" r="7.0"/><circle cx="1334.2" cy="327.8" r="7.0"/><circle cx="1344.5" cy="331.2" r="7.0"/><circle cx="1358.3" cy="324.2" r="7.0"/><circle cx="1356.7" cy="325.0" r="7.0"/><circle cx="1361.7" cy="333.3" r="7.0"/><circle cx="1372.8" cy="329.2" r="7.0"/><circle cx="1349.2" cy="335.8" r="7.0"/><circle cx="1410.0" cy="331.7" r="7.0"/><circle cx="1424.2" cy="327.5" r="7.0"/><circle cx="1436.3" cy="326.7" r="7.0"/><circle cx="1433.3" cy="349.2" r="7.0"/><circle cx="1442.5" cy="347.5" r="7.0"/><circle cx="1432.5" cy="358.3" r="7.0"/><circle cx="1413.3" cy="360.8" r="7.0"/><circle cx="1398.3" cy="360.0" r="7.0"/><circle cx="1401.7" cy="372.5" r="7.0"/><circle cx="1390.8" cy="354.2" r="7.0"/><circle cx="1383.3" cy="359.2" r="7.0"/><circle cx="1371.7" cy="355.0" r="7.0"/><circle cx="1384.2" cy="351.7" r="7.0"/><circle cx="1348.3" cy="358.7" r="7.0"/><circle cx="1340.0" cy="363.0" r="7.0"/><circle cx="1291.3" cy="372.0" r="7.0"/><circle cx="1304.2" cy="371.3" r="7.0"/><circle cx="1308.0" cy="372.0" r="7.0"/><circle cx="1328.3" cy="369.2" r="7.0"/><circle cx="1331.7" cy="378.3" r="7.0"/><circle cx="1369.2" cy="380.0" r="7.0"/><circle cx="1375.8" cy="379.7" r="7.0"/><circle cx="1387.5" cy="392.2" r="7.0"/><circle cx="1252.5" cy="386.7" r="7.0"/><circle cx="1250.0" cy="395.0" r="7.0"/><circle cx="1276.7" cy="384.2" r="7.0"/><circle cx="1270.0" cy="391.7" r="7.0"/><circle cx="1283.3" cy="390.8" r="7.0"/><circle cx="1310.0" cy="392.5" r="7.0"/><circle cx="1315.0" cy="395.8" r="7.0"/><circle cx="1320.0" cy="396.3" r="7.0"/><circle cx="1321.7" cy="405.8" r="7.0"/><circle cx="1301.7" cy="410.0" r="7.0"/><circle cx="1342.5" cy="405.8" r="7.0"/><circle cx="1324.2" cy="422.2" r="7.0"/><circle cx="1336.7" cy="416.7" r="7.0"/><circle cx="1338.3" cy="419.2" r="7.0"/><circle cx="1205.0" cy="416.7" r="7.0"/><circle cx="1203.3" cy="421.7" r="7.0"/><circle cx="1214.2" cy="424.2" r="7.0"/><circle cx="1221.7" cy="424.2" r="7.0"/><circle cx="1215.0" cy="428.3" r="7.0"/><circle cx="1230.0" cy="429.7" r="7.0"/><circle cx="1256.3" cy="417.5" r="7.0"/><circle cx="1231.7" cy="445.0" r="7.0"/><circle cx="1233.3" cy="456.7" r="7.0"/><circle cx="1248.3" cy="453.3" r="7.0"/><circle cx="1297.5" cy="437.5" r="7.0"/><circle cx="1293.3" cy="453.0" r="7.0"/><circle cx="1325.8" cy="445.3" r="7.0"/><circle cx="1352.5" cy="450.8" r="7.0"/><circle cx="1313.7" cy="470.0" r="7.0"/><circle cx="1285.0" cy="476.7" r="7.0"/><circle cx="1211.3" cy="477.2" r="7.0"/><circle cx="1389.7" cy="418.8" r="7.0"/><circle cx="1416.3" cy="426.7" r="7.0"/><circle cx="1430.3" cy="420.8" r="7.0"/><circle cx="1199.2" cy="515.5" r="7.0"/><circle cx="1295.5" cy="512.0" r="7.0"/><circle cx="1525.0" cy="208.3" r="7.0"/><circle cx="1560.0" cy="221.7" r="7.0"/><circle cx="1461.7" cy="251.7" r="7.0"/><circle cx="1474.2" cy="265.0" r="7.0"/><circle cx="1455.3" cy="281.7" r="7.0"/><circle cx="1467.8" cy="284.2" r="7.0"/><circle cx="1563.8" cy="255.5" r="7.0"/><circle cx="1572.0" cy="266.7" r="7.0"/><circle cx="1588.7" cy="249.7" r="7.0"/><circle cx="1631.7" cy="280.0" r="7.0"/><circle cx="1643.7" cy="271.7" r="7.0"/><circle cx="1650.0" cy="276.3" r="7.0"/><circle cx="1687.0" cy="273.8" r="7.0"/><circle cx="1684.7" cy="291.3" r="7.0"/><circle cx="1536.7" cy="285.8" r="7.0"/><circle cx="1543.7" cy="290.0" r="7.0"/><circle cx="1550.0" cy="289.7" r="7.0"/><circle cx="1480.0" cy="300.8" r="7.0"/><circle cx="1500.3" cy="298.3" r="7.0"/><circle cx="1508.8" cy="298.7" r="7.0"/><circle cx="1535.3" cy="301.3" r="7.0"/><circle cx="1555.8" cy="301.7" r="7.0"/><circle cx="1567.5" cy="301.7" r="7.0"/><circle cx="1576.3" cy="300.8" r="7.0"/><circle cx="1744.2" cy="300.8" r="7.0"/><circle cx="1450.8" cy="309.2" r="7.0"/><circle cx="1457.5" cy="310.8" r="7.0"/><circle cx="1463.3" cy="310.8" r="7.0"/><circle cx="1488.3" cy="305.0" r="7.0"/><circle cx="1490.0" cy="308.3" r="7.0"/><circle cx="1478.3" cy="313.7" r="7.0"/><circle cx="1506.7" cy="320.8" r="7.0"/><circle cx="1517.0" cy="314.7" r="7.0"/><circle cx="1531.3" cy="313.3" r="7.0"/><circle cx="1545.3" cy="311.3" r="7.0"/><circle cx="1554.2" cy="307.5" r="7.0"/><circle cx="1584.7" cy="311.3" r="7.0"/><circle cx="1600.8" cy="313.3" r="7.0"/><circle cx="1619.2" cy="310.8" r="7.0"/><circle cx="1620.8" cy="315.8" r="7.0"/><circle cx="1627.5" cy="321.7" r="7.0"/><circle cx="1639.7" cy="313.0" r="7.0"/><circle cx="1666.3" cy="312.2" r="7.0"/><circle cx="1660.3" cy="323.3" r="7.0"/><circle cx="1730.0" cy="307.5" r="7.0"/><circle cx="1731.7" cy="313.3" r="7.0"/><circle cx="1762.5" cy="312.5" r="7.0"/><circle cx="1766.7" cy="319.2" r="7.0"/><circle cx="1780.8" cy="324.2" r="7.0"/><circle cx="1697.2" cy="325.0" r="7.0"/><circle cx="1715.5" cy="324.2" r="7.0"/><circle cx="1481.7" cy="328.3" r="7.0"/><circle cx="1566.2" cy="330.8" r="7.0"/><circle cx="1586.7" cy="335.8" r="7.0"/><circle cx="1528.3" cy="331.7" r="7.0"/><circle cx="1546.7" cy="333.3" r="7.0"/><circle cx="1636.7" cy="329.2" r="7.0"/><circle cx="1639.2" cy="330.8" r="7.0"/><circle cx="1651.7" cy="328.3" r="7.0"/><circle cx="1658.3" cy="327.5" r="7.0"/><circle cx="1648.3" cy="340.0" r="7.0"/><circle cx="1632.5" cy="340.0" r="7.0"/><circle cx="1676.7" cy="345.8" r="7.0"/><circle cx="1689.2" cy="345.8" r="7.0"/><circle cx="1692.5" cy="337.5" r="7.0"/><circle cx="1703.3" cy="333.3" r="7.0"/><circle cx="1713.3" cy="339.5" r="7.0"/><circle cx="1734.2" cy="337.0" r="7.0"/><circle cx="1748.0" cy="345.0" r="7.0"/><circle cx="1768.3" cy="342.8" r="7.0"/><circle cx="1738.3" cy="349.2" r="7.0"/><circle cx="1789.2" cy="344.2" r="7.0"/><circle cx="1453.3" cy="350.0" r="7.0"/><circle cx="1465.0" cy="346.7" r="7.0"/><circle cx="1474.2" cy="348.3" r="7.0"/><circle cx="1475.0" cy="350.8" r="7.0"/><circle cx="1484.2" cy="355.8" r="7.0"/><circle cx="1498.3" cy="349.2" r="7.0"/><circle cx="1501.7" cy="345.8" r="7.0"/><circle cx="1520.8" cy="343.3" r="7.0"/><circle cx="1493.3" cy="364.5" r="7.0"/><circle cx="1519.2" cy="361.3" r="7.0"/><circle cx="1510.8" cy="370.8" r="7.0"/><circle cx="1556.7" cy="351.7" r="7.0"/><circle cx="1558.0" cy="359.5" r="7.0"/><circle cx="1574.2" cy="356.7" r="7.0"/><circle cx="1570.0" cy="363.3" r="7.0"/><circle cx="1563.3" cy="346.7" r="7.0"/><circle cx="1598.3" cy="351.7" r="7.0"/><circle cx="1605.0" cy="360.0" r="7.0"/><circle cx="1610.8" cy="367.5" r="7.0"/><circle cx="1613.3" cy="369.2" r="7.0"/><circle cx="1592.5" cy="372.5" r="7.0"/><circle cx="1616.7" cy="352.5" r="7.0"/><circle cx="1623.3" cy="382.5" r="7.0"/><circle cx="1655.8" cy="378.3" r="7.0"/><circle cx="1661.7" cy="367.5" r="7.0"/><circle cx="1671.7" cy="370.0" r="7.0"/><circle cx="1680.8" cy="374.2" r="7.0"/><circle cx="1665.0" cy="360.0" r="7.0"/><circle cx="1706.7" cy="370.0" r="7.0"/><circle cx="1705.0" cy="366.7" r="7.0"/><circle cx="1726.7" cy="376.7" r="7.0"/><circle cx="1721.7" cy="365.8" r="7.0"/><circle cx="1735.8" cy="365.8" r="7.0"/><circle cx="1750.0" cy="364.2" r="7.0"/><circle cx="1776.7" cy="371.7" r="7.0"/><circle cx="1785.0" cy="375.8" r="7.0"/><circle cx="1772.5" cy="378.3" r="7.0"/><circle cx="1486.2" cy="382.2" r="7.0"/><circle cx="1449.7" cy="390.0" r="7.0"/><circle cx="1496.3" cy="395.8" r="7.0"/><circle cx="1512.5" cy="397.2" r="7.0"/><circle cx="1522.8" cy="405.0" r="7.0"/><circle cx="1526.7" cy="403.3" r="7.0"/><circle cx="1539.5" cy="390.5" r="7.0"/><circle cx="1582.2" cy="386.7" r="7.0"/><circle cx="1592.5" cy="383.3" r="7.0"/><circle cx="1595.8" cy="390.0" r="7.0"/><circle cx="1603.0" cy="394.2" r="7.0"/><circle cx="1674.7" cy="396.3" r="7.0"/><circle cx="1679.2" cy="385.8" r="7.0"/><circle cx="1682.5" cy="398.3" r="7.0"/><circle cx="1691.7" cy="395.8" r="7.0"/><circle cx="1697.5" cy="396.7" r="7.0"/><circle cx="1710.0" cy="387.5" r="7.0"/><circle cx="1711.7" cy="390.0" r="7.0"/><circle cx="1738.3" cy="383.3" r="7.0"/><circle cx="1741.7" cy="380.0" r="7.0"/><circle cx="1746.7" cy="388.3" r="7.0"/><circle cx="1755.0" cy="390.0" r="7.0"/><circle cx="1757.5" cy="386.7" r="7.0"/><circle cx="1771.7" cy="396.7" r="7.0"/><circle cx="1782.5" cy="399.2" r="7.0"/><circle cx="1788.3" cy="408.3" r="7.0"/><circle cx="1788.3" cy="420.0" r="7.0"/><circle cx="1610.8" cy="409.5" r="7.0"/><circle cx="1625.5" cy="417.8" r="7.0"/><circle cx="1578.3" cy="413.3" r="7.0"/><circle cx="1615.0" cy="431.3" r="7.0"/><circle cx="1645.8" cy="446.3" r="7.0"/><circle cx="1668.3" cy="442.8" r="7.0"/><circle cx="1629.7" cy="458.7" r="7.0"/><circle cx="1701.2" cy="433.3" r="7.0"/><circle cx="1723.7" cy="418.7" r="7.0"/><circle cx="1760.8" cy="415.8" r="7.0"/><circle cx="1580.5" cy="491.7" r="7.0"/><circle cx="1838.7" cy="220.5" r="7.0"/><circle cx="1926.7" cy="220.0" r="7.0"/><circle cx="1832.5" cy="273.3" r="7.0"/><circle cx="1848.8" cy="276.7" r="7.0"/><circle cx="1863.0" cy="281.2" r="7.0"/><circle cx="1875.5" cy="285.0" r="7.0"/><circle cx="1883.7" cy="271.7" r="7.0"/><circle cx="1935.0" cy="288.0" r="7.0"/><circle cx="1836.7" cy="297.5" r="7.0"/><circle cx="1867.2" cy="296.7" r="7.0"/><circle cx="1877.5" cy="301.7" r="7.0"/><circle cx="1910.0" cy="300.0" r="7.0"/><circle cx="1908.3" cy="305.0" r="7.0"/><circle cx="1803.8" cy="313.0" r="7.0"/><circle cx="1852.5" cy="313.0" r="7.0"/><circle cx="1861.3" cy="311.7" r="7.0"/><circle cx="1871.7" cy="317.5" r="7.0"/><circle cx="1881.7" cy="318.3" r="7.0"/><circle cx="1855.0" cy="323.8" r="7.0"/><circle cx="1869.2" cy="324.2" r="7.0"/><circle cx="1865.5" cy="333.3" r="7.0"/><circle cx="1901.7" cy="319.2" r="7.0"/><circle cx="1900.0" cy="326.7" r="7.0"/><circle cx="1914.2" cy="323.3" r="7.0"/><circle cx="1920.5" cy="316.2" r="7.0"/><circle cx="1930.8" cy="321.7" r="7.0"/><circle cx="1830.0" cy="330.8" r="7.0"/><circle cx="1822.5" cy="338.0" r="7.0"/><circle cx="1795.8" cy="344.2" r="7.0"/><circle cx="1846.7" cy="340.0" r="7.0"/><circle cx="1807.5" cy="350.0" r="7.0"/><circle cx="1851.7" cy="346.7" r="7.0"/><circle cx="1887.5" cy="342.5" r="7.0"/><circle cx="1905.0" cy="345.0" r="7.0"/><circle cx="1916.7" cy="339.2" r="7.0"/><circle cx="1923.3" cy="345.0" r="7.0"/><circle cx="1945.0" cy="351.7" r="7.0"/><circle cx="1940.0" cy="360.0" r="7.0"/><circle cx="1824.2" cy="362.5" r="7.0"/><circle cx="1873.3" cy="357.5" r="7.0"/><circle cx="1898.3" cy="357.5" r="7.0"/><circle cx="1904.2" cy="363.3" r="7.0"/><circle cx="1859.2" cy="367.5" r="7.0"/><circle cx="1885.8" cy="369.7" r="7.0"/><circle cx="1918.3" cy="368.0" r="7.0"/><circle cx="1928.3" cy="367.5" r="7.0"/><circle cx="1936.7" cy="371.7" r="7.0"/><circle cx="1805.0" cy="380.0" r="7.0"/><circle cx="1815.8" cy="373.3" r="7.0"/><circle cx="1801.7" cy="371.7" r="7.0"/><circle cx="1791.7" cy="368.3" r="7.0"/><circle cx="1826.7" cy="380.8" r="7.0"/><circle cx="1842.5" cy="376.7" r="7.0"/><circle cx="1840.8" cy="388.3" r="7.0"/><circle cx="1857.2" cy="382.2" r="7.0"/><circle cx="1894.2" cy="386.3" r="7.0"/><circle cx="1932.5" cy="382.2" r="7.0"/><circle cx="1940.8" cy="395.8" r="7.0"/><circle cx="1924.7" cy="401.7" r="7.0"/><circle cx="1892.0" cy="407.5" r="7.0"/><circle cx="1834.5" cy="400.5" r="7.0"/><circle cx="1799.7" cy="395.0" r="7.0"/><circle cx="1820.0" cy="393.3" r="7.0"/><circle cx="1814.2" cy="400.8" r="7.0"/><circle cx="1810.0" cy="405.8" r="7.0"/><circle cx="1818.3" cy="426.7" r="7.0"/><circle cx="1844.7" cy="461.7" r="7.0"/><circle cx="1945.0" cy="631.7" r="7.0"/></g>
</g>
<path d="M68.0,658.5 L72.0,654.3 L76.0,650.0 L80.0,645.8 L84.0,641.6 L88.0,637.3 L92.0,633.1 L96.0,628.9 L100.0,624.7 L104.0,620.4 L108.0,616.2 L112.0,612.0 L116.0,607.9 L120.0,603.7 L124.0,599.5 L128.0,595.3 L132.0,591.2 L136.0,587.1 L140.0,583.0 L144.0,578.9 L148.0,574.8 L152.0,570.8 L156.0,566.8 L160.0,562.8 L164.0,558.9 L168.0,555.0 L172.0,551.2 L176.0,547.4 L180.0,543.7 L184.0,540.1 L188.0,536.5 L192.0,533.0 L196.0,529.5 L200.0,526.1 L204.0,522.8 L208.0,519.5 L212.0,516.3 L216.0,513.2 L220.0,510.1 L224.0,507.1 L228.0,504.2 L232.0,501.4 L236.0,498.6 L240.0,496.0 L244.0,493.4 L248.0,490.8 L252.0,488.4 L256.0,486.0 L260.0,483.7 L264.0,481.5 L268.0,479.4 L272.0,477.4 L276.0,475.4 L280.0,473.6 L284.0,471.8 L288.0,470.1 L292.0,468.5 L296.0,466.9 L300.0,465.5 L304.0,464.1 L308.0,462.9 L312.0,461.7 L316.0,460.6 L320.0,459.6 L324.0,458.6 L328.0,457.8 L332.0,457.0 L336.0,456.2 L340.0,455.6 L344.0,455.0 L348.0,454.4 L352.0,453.9 L356.0,453.5 L360.0,453.2 L364.0,452.8 L368.0,452.6 L372.0,452.4 L376.0,452.2 L380.0,452.1 L384.0,452.0 L388.0,452.0 L392.0,452.0 L396.0,452.0 L400.0,452.1 L404.0,452.2 L408.0,452.4 L412.0,452.5 L416.0,452.7 L420.0,453.0 L424.0,453.2 L428.0,453.5 L432.0,453.8 L436.0,454.1 L440.0,454.4 L444.0,454.7 L448.0,455.0 L452.0,455.4 L456.0,455.7 L460.0,456.1 L464.0,456.4 L468.0,456.8 L472.0,457.2 L476.0,457.5 L480.0,457.9 L484.0,458.3 L488.0,458.7 L492.0,459.1 L496.0,459.6 L500.0,460.0 L504.0,460.4 L508.0,460.9 L512.0,461.3 L516.0,461.8 L520.0,462.3 L524.0,462.8 L528.0,463.2 L532.0,463.8 L536.0,464.3 L540.0,464.8 L544.0,465.3 L548.0,465.9 L552.0,466.4 L556.0,467.0 L560.0,467.6 L564.0,468.2 L568.0,468.8 L572.0,469.4 L576.0,470.1 L580.0,470.7 L584.0,471.4 L588.0,472.0 L592.0,472.7 L596.0,473.4 L600.0,474.1 L604.0,474.9 L608.0,475.6 L612.0,476.4 L616.0,477.2 L620.0,478.0 L624.0,478.8 L628.0,479.6 L632.0,480.5 L636.0,481.3 L640.0,482.2 L644.0,483.1 L648.0,484.1 L652.0,485.0 L656.0,486.0 L660.0,486.9 L664.0,488.0 L668.0,489.0 L672.0,490.0 L676.0,491.1 L680.0,492.2 L684.0,493.3 L688.0,494.4 L692.0,495.5 L696.0,496.6 L700.0,497.8 L704.0,499.0 L708.0,500.2 L712.0,501.4 L716.0,502.6 L720.0,503.8 L724.0,505.1 L728.0,506.4 L732.0,507.6 L736.0,508.9 L740.0,510.2 L744.0,511.5 L748.0,512.8 L752.0,514.1 L756.0,515.5 L760.0,516.8 L764.0,518.1 L768.0,519.5 L772.0,520.8 L776.0,522.2 L780.0,523.6 L784.0,524.9 L788.0,526.3 L792.0,527.7 L796.0,529.0 L800.0,530.4 L804.0,531.7 L808.0,533.1 L812.0,534.4 L816.0,535.7 L820.0,537.1 L824.0,538.4 L828.0,539.7 L832.0,540.9 L836.0,542.2 L840.0,543.4 L844.0,544.6 L848.0,545.8 L852.0,547.0 L856.0,548.1 L860.0,549.3 L864.0,550.4 L868.0,551.4 L872.0,552.4 L876.0,553.4 L880.0,554.4 L884.0,555.3 L888.0,556.2 L892.0,557.1 L896.0,557.9 L900.0,558.7 L904.0,559.5 L908.0,560.2 L912.0,560.9 L916.0,561.6 L920.0,562.2 L924.0,562.8 L928.0,563.4 L932.0,564.0 L936.0,564.5 L940.0,565.0 L944.0,565.5 L948.0,565.9 L952.0,566.4 L956.0,566.8 L960.0,567.1 L964.0,567.5 L968.0,567.8 L972.0,568.1 L976.0,568.4 L980.0,568.7 L984.0,568.9 L988.0,569.2 L992.0,569.4 L996.0,569.6 L1000.0,569.7 L1004.0,569.9 L1008.0,570.0 L1012.0,570.1 L1016.0,570.1 L1020.0,570.2 L1024.0,570.2 L1028.0,570.2 L1032.0,570.2 L1036.0,570.1 L1040.0,570.0 L1044.0,569.9 L1048.0,569.7 L1052.0,569.5 L1056.0,569.3 L1060.0,569.1 L1064.0,568.9 L1068.0,568.6 L1072.0,568.3 L1076.0,568.0 L1080.0,567.7 L1084.0,567.3 L1088.0,567.0 L1092.0,566.6 L1096.0,566.2 L1100.0,565.8 L1104.0,565.4 L1108.0,565.0 L1112.0,564.6 L1116.0,564.2 L1120.0,563.8 L1124.0,563.3 L1128.0,562.9 L1132.0,562.5 L1136.0,562.0 L1140.0,561.6 L1144.0,561.2 L1148.0,560.7 L1152.0,560.3 L1156.0,559.9 L1160.0,559.5 L1164.0,559.0 L1168.0,558.6 L1172.0,558.2 L1176.0,557.8 L1180.0,557.4 L1184.0,557.1 L1188.0,556.7 L1192.0,556.3 L1196.0,556.0 L1200.0,555.7 L1204.0,555.4 L1208.0,555.1 L1212.0,554.8 L1216.0,554.6 L1220.0,554.4 L1224.0,554.2 L1228.0,554.1 L1232.0,554.0 L1236.0,554.0 L1240.0,554.0 L1244.0,554.1 L1248.0,554.2 L1252.0,554.4 L1256.0,554.7 L1260.0,555.0 L1264.0,555.3 L1268.0,555.8 L1272.0,556.3 L1276.0,556.8 L1280.0,557.4 L1284.0,558.1 L1288.0,558.8 L1292.0,559.5 L1296.0,560.3 L1300.0,561.2 L1304.0,562.0 L1308.0,562.9 L1312.0,563.8 L1316.0,564.8 L1320.0,565.7 L1324.0,566.7 L1328.0,567.8 L1332.0,568.8 L1336.0,569.9 L1340.0,571.0 L1344.0,572.1 L1348.0,573.2 L1352.0,574.4 L1356.0,575.6 L1360.0,576.8 L1364.0,578.0 L1368.0,579.3 L1372.0,580.6 L1376.0,581.9 L1380.0,583.2 L1384.0,584.5 L1388.0,585.9 L1392.0,587.3 L1396.0,588.7 L1400.0,590.1 L1404.0,591.5 L1408.0,593.0 L1412.0,594.4 L1416.0,595.9 L1420.0,597.4 L1424.0,598.9 L1428.0,600.4 L1432.0,602.0 L1436.0,603.5 L1440.0,605.0 L1444.0,606.5 L1448.0,608.0 L1452.0,609.5 L1456.0,611.0 L1460.0,612.4 L1464.0,613.9 L1468.0,615.3 L1472.0,616.7 L1476.0,618.1 L1480.0,619.4 L1484.0,620.7 L1488.0,622.0 L1492.0,623.2 L1496.0,624.4 L1500.0,625.6 L1504.0,626.8 L1508.0,627.9 L1512.0,629.0 L1516.0,630.0 L1520.0,631.1 L1524.0,632.1 L1528.0,633.1 L1532.0,634.0 L1536.0,634.9 L1540.0,635.8 L1544.0,636.7 L1548.0,637.5 L1552.0,638.3 L1556.0,639.1 L1560.0,639.8 L1564.0,640.5 L1568.0,641.2 L1572.0,641.9 L1576.0,642.6 L1580.0,643.2 L1584.0,643.8 L1588.0,644.4 L1592.0,644.9 L1596.0,645.4 L1600.0,646.0 L1604.0,646.5 L1608.0,647.0 L1612.0,647.4 L1616.0,647.9 L1620.0,648.3 L1624.0,648.8 L1628.0,649.2 L1632.0,649.6 L1636.0,650.1 L1640.0,650.5 L1644.0,650.9 L1648.0,651.3 L1652.0,651.7 L1656.0,652.0 L1660.0,652.4 L1664.0,652.8 L1668.0,653.1 L1672.0,653.5 L1676.0,653.8 L1680.0,654.2 L1684.0,654.5 L1688.0,654.8 L1692.0,655.1 L1696.0,655.5 L1700.0,655.8 L1704.0,656.1 L1708.0,656.4 L1712.0,656.6 L1716.0,656.9 L1720.0,657.2 L1724.0,657.5 L1728.0,657.7 L1732.0,658.0 L1736.0,658.3 L1740.0,658.5 L1744.0,658.7 L1748.0,659.0 L1752.0,659.2 L1756.0,659.4 L1760.0,659.7 L1764.0,659.9 L1768.0,660.1 L1772.0,660.3 L1776.0,660.5 L1780.0,660.7 L1784.0,661.0 L1788.0,661.2 L1792.0,661.4 L1796.0,661.6 L1800.0,661.8 L1804.0,662.0 L1808.0,662.2 L1812.0,662.4 L1816.0,662.6 L1820.0,662.8 L1824.0,663.1 L1828.0,663.3 L1832.0,663.5 L1836.0,663.7 L1840.0,664.0 L1844.0,664.2 L1848.0,664.4 L1852.0,664.7 L1856.0,664.9 L1860.0,665.2 L1864.0,665.4 L1868.0,665.7 L1872.0,665.9 L1876.0,666.2 L1880.0,666.4 L1884.0,666.7 L1888.0,667.0 L1892.0,667.2 L1896.0,667.5 L1900.0,667.8 L1904.0,668.1 L1908.0,668.3 L1912.0,668.6 L1916.0,668.9 L1920.0,669.2 L1924.0,669.5 L1928.0,669.8 L1932.0,670.0 L1936.0,670.3 L1940.0,670.6 L1944.0,670.9 L1945.5,671.0" stroke="#fff" stroke-width="17" fill="none"/>
<path d="M68.0,658.5 L72.0,654.3 L76.0,650.0 L80.0,645.8 L84.0,641.6 L88.0,637.3 L92.0,633.1 L96.0,628.9 L100.0,624.7 L104.0,620.4 L108.0,616.2 L112.0,612.0 L116.0,607.9 L120.0,603.7 L124.0,599.5 L128.0,595.3 L132.0,591.2 L136.0,587.1 L140.0,583.0 L144.0,578.9 L148.0,574.8 L152.0,570.8 L156.0,566.8 L160.0,562.8 L164.0,558.9 L168.0,555.0 L172.0,551.2 L176.0,547.4 L180.0,543.7 L184.0,540.1 L188.0,536.5 L192.0,533.0 L196.0,529.5 L200.0,526.1 L204.0,522.8 L208.0,519.5 L212.0,516.3 L216.0,513.2 L220.0,510.1 L224.0,507.1 L228.0,504.2 L232.0,501.4 L236.0,498.6 L240.0,496.0 L244.0,493.4 L248.0,490.8 L252.0,488.4 L256.0,486.0 L260.0,483.7 L264.0,481.5 L268.0,479.4 L272.0,477.4 L276.0,475.4 L280.0,473.6 L284.0,471.8 L288.0,470.1 L292.0,468.5 L296.0,466.9 L300.0,465.5 L304.0,464.1 L308.0,462.9 L312.0,461.7 L316.0,460.6 L320.0,459.6 L324.0,458.6 L328.0,457.8 L332.0,457.0 L336.0,456.2 L340.0,455.6 L344.0,455.0 L348.0,454.4 L352.0,453.9 L356.0,453.5 L360.0,453.2 L364.0,452.8 L368.0,452.6 L372.0,452.4 L376.0,452.2 L380.0,452.1 L384.0,452.0 L388.0,452.0 L392.0,452.0 L396.0,452.0 L400.0,452.1 L404.0,452.2 L408.0,452.4 L412.0,452.5 L416.0,452.7 L420.0,453.0 L424.0,453.2 L428.0,453.5 L432.0,453.8 L436.0,454.1 L440.0,454.4 L444.0,454.7 L448.0,455.0 L452.0,455.4 L456.0,455.7 L460.0,456.1 L464.0,456.4 L468.0,456.8 L472.0,457.2 L476.0,457.5 L480.0,457.9 L484.0,458.3 L488.0,458.7 L492.0,459.1 L496.0,459.6 L500.0,460.0 L504.0,460.4 L508.0,460.9 L512.0,461.3 L516.0,461.8 L520.0,462.3 L524.0,462.8 L528.0,463.2 L532.0,463.8 L536.0,464.3 L540.0,464.8 L544.0,465.3 L548.0,465.9 L552.0,466.4 L556.0,467.0 L560.0,467.6 L564.0,468.2 L568.0,468.8 L572.0,469.4 L576.0,470.1 L580.0,470.7 L584.0,471.4 L588.0,472.0 L592.0,472.7 L596.0,473.4 L600.0,474.1 L604.0,474.9 L608.0,475.6 L612.0,476.4 L616.0,477.2 L620.0,478.0 L624.0,478.8 L628.0,479.6 L632.0,480.5 L636.0,481.3 L640.0,482.2 L644.0,483.1 L648.0,484.1 L652.0,485.0 L656.0,486.0 L660.0,486.9 L664.0,488.0 L668.0,489.0 L672.0,490.0 L676.0,491.1 L680.0,492.2 L684.0,493.3 L688.0,494.4 L692.0,495.5 L696.0,496.6 L700.0,497.8 L704.0,499.0 L708.0,500.2 L712.0,501.4 L716.0,502.6 L720.0,503.8 L724.0,505.1 L728.0,506.4 L732.0,507.6 L736.0,508.9 L740.0,510.2 L744.0,511.5 L748.0,512.8 L752.0,514.1 L756.0,515.5 L760.0,516.8 L764.0,518.1 L768.0,519.5 L772.0,520.8 L776.0,522.2 L780.0,523.6 L784.0,524.9 L788.0,526.3 L792.0,527.7 L796.0,529.0 L800.0,530.4 L804.0,531.7 L808.0,533.1 L812.0,534.4 L816.0,535.7 L820.0,537.1 L824.0,538.4 L828.0,539.7 L832.0,540.9 L836.0,542.2 L840.0,543.4 L844.0,544.6 L848.0,545.8 L852.0,547.0 L856.0,548.1 L860.0,549.3 L864.0,550.4 L868.0,551.4 L872.0,552.4 L876.0,553.4 L880.0,554.4 L884.0,555.3 L888.0,556.2 L892.0,557.1 L896.0,557.9 L900.0,558.7 L904.0,559.5 L908.0,560.2 L912.0,560.9 L916.0,561.6 L920.0,562.2 L924.0,562.8 L928.0,563.4 L932.0,564.0 L936.0,564.5 L940.0,565.0 L944.0,565.5 L948.0,565.9 L952.0,566.4 L956.0,566.8 L960.0,567.1 L964.0,567.5 L968.0,567.8 L972.0,568.1 L976.0,568.4 L980.0,568.7 L984.0,568.9 L988.0,569.2 L992.0,569.4 L996.0,569.6 L1000.0,569.7 L1004.0,569.9 L1008.0,570.0 L1012.0,570.1 L1016.0,570.1 L1020.0,570.2 L1024.0,570.2 L1028.0,570.2 L1032.0,570.2 L1036.0,570.1 L1040.0,570.0 L1044.0,569.9 L1048.0,569.7 L1052.0,569.5 L1056.0,569.3 L1060.0,569.1 L1064.0,568.9 L1068.0,568.6 L1072.0,568.3 L1076.0,568.0 L1080.0,567.7 L1084.0,567.3 L1088.0,567.0 L1092.0,566.6 L1096.0,566.2 L1100.0,565.8 L1104.0,565.4 L1108.0,565.0 L1112.0,564.6 L1116.0,564.2 L1120.0,563.8 L1124.0,563.3 L1128.0,562.9 L1132.0,562.5 L1136.0,562.0 L1140.0,561.6 L1144.0,561.2 L1148.0,560.7 L1152.0,560.3 L1156.0,559.9 L1160.0,559.5 L1164.0,559.0 L1168.0,558.6 L1172.0,558.2 L1176.0,557.8 L1180.0,557.4 L1184.0,557.1 L1188.0,556.7 L1192.0,556.3 L1196.0,556.0 L1200.0,555.7 L1204.0,555.4 L1208.0,555.1 L1212.0,554.8 L1216.0,554.6 L1220.0,554.4 L1224.0,554.2 L1228.0,554.1 L1232.0,554.0 L1236.0,554.0 L1240.0,554.0 L1244.0,554.1 L1248.0,554.2 L1252.0,554.4 L1256.0,554.7 L1260.0,555.0 L1264.0,555.3 L1268.0,555.8 L1272.0,556.3 L1276.0,556.8 L1280.0,557.4 L1284.0,558.1 L1288.0,558.8 L1292.0,559.5 L1296.0,560.3 L1300.0,561.2 L1304.0,562.0 L1308.0,562.9 L1312.0,563.8 L1316.0,564.8 L1320.0,565.7 L1324.0,566.7 L1328.0,567.8 L1332.0,568.8 L1336.0,569.9 L1340.0,571.0 L1344.0,572.1 L1348.0,573.2 L1352.0,574.4 L1356.0,575.6 L1360.0,576.8 L1364.0,578.0 L1368.0,579.3 L1372.0,580.6 L1376.0,581.9 L1380.0,583.2 L1384.0,584.5 L1388.0,585.9 L1392.0,587.3 L1396.0,588.7 L1400.0,590.1 L1404.0,591.5 L1408.0,593.0 L1412.0,594.4 L1416.0,595.9 L1420.0,597.4 L1424.0,598.9 L1428.0,600.4 L1432.0,602.0 L1436.0,603.5 L1440.0,605.0 L1444.0,606.5 L1448.0,608.0 L1452.0,609.5 L1456.0,611.0 L1460.0,612.4 L1464.0,613.9 L1468.0,615.3 L1472.0,616.7 L1476.0,618.1 L1480.0,619.4 L1484.0,620.7 L1488.0,622.0 L1492.0,623.2 L1496.0,624.4 L1500.0,625.6 L1504.0,626.8 L1508.0,627.9 L1512.0,629.0 L1516.0,630.0 L1520.0,631.1 L1524.0,632.1 L1528.0,633.1 L1532.0,634.0 L1536.0,634.9 L1540.0,635.8 L1544.0,636.7 L1548.0,637.5 L1552.0,638.3 L1556.0,639.1 L1560.0,639.8 L1564.0,640.5 L1568.0,641.2 L1572.0,641.9 L1576.0,642.6 L1580.0,643.2 L1584.0,643.8 L1588.0,644.4 L1592.0,644.9 L1596.0,645.4 L1600.0,646.0 L1604.0,646.5 L1608.0,647.0 L1612.0,647.4 L1616.0,647.9 L1620.0,648.3 L1624.0,648.8 L1628.0,649.2 L1632.0,649.6 L1636.0,650.1 L1640.0,650.5 L1644.0,650.9 L1648.0,651.3 L1652.0,651.7 L1656.0,652.0 L1660.0,652.4 L1664.0,652.8 L1668.0,653.1 L1672.0,653.5 L1676.0,653.8 L1680.0,654.2 L1684.0,654.5 L1688.0,654.8 L1692.0,655.1 L1696.0,655.5 L1700.0,655.8 L1704.0,656.1 L1708.0,656.4 L1712.0,656.6 L1716.0,656.9 L1720.0,657.2 L1724.0,657.5 L1728.0,657.7 L1732.0,658.0 L1736.0,658.3 L1740.0,658.5 L1744.0,658.7 L1748.0,659.0 L1752.0,659.2 L1756.0,659.4 L1760.0,659.7 L1764.0,659.9 L1768.0,660.1 L1772.0,660.3 L1776.0,660.5 L1780.0,660.7 L1784.0,661.0 L1788.0,661.2 L1792.0,661.4 L1796.0,661.6 L1800.0,661.8 L1804.0,662.0 L1808.0,662.2 L1812.0,662.4 L1816.0,662.6 L1820.0,662.8 L1824.0,663.1 L1828.0,663.3 L1832.0,663.5 L1836.0,663.7 L1840.0,664.0 L1844.0,664.2 L1848.0,664.4 L1852.0,664.7 L1856.0,664.9 L1860.0,665.2 L1864.0,665.4 L1868.0,665.7 L1872.0,665.9 L1876.0,666.2 L1880.0,666.4 L1884.0,666.7 L1888.0,667.0 L1892.0,667.2 L1896.0,667.5 L1900.0,667.8 L1904.0,668.1 L1908.0,668.3 L1912.0,668.6 L1916.0,668.9 L1920.0,669.2 L1924.0,669.5 L1928.0,669.8 L1932.0,670.0 L1936.0,670.3 L1940.0,670.6 L1944.0,670.9 L1945.5,671.0" stroke="#F28E2B" stroke-width="9" fill="none"/>
<path d="M1199.5,361.0 L1203.5,360.6 L1207.5,360.2 L1211.5,359.9 L1215.5,359.5 L1219.5,359.1 L1223.5,358.7 L1227.5,358.4 L1231.5,358.0 L1235.5,357.6 L1239.5,357.2 L1243.5,356.8 L1247.5,356.4 L1251.5,356.0 L1255.5,355.6 L1259.5,355.2 L1263.5,354.8 L1267.5,354.4 L1271.5,354.0 L1275.5,353.5 L1279.5,353.1 L1283.5,352.7 L1287.5,352.2 L1291.5,351.8 L1295.5,351.3 L1299.5,350.8 L1303.5,350.4 L1307.5,349.9 L1311.5,349.4 L1315.5,348.9 L1319.5,348.4 L1323.5,347.9 L1327.5,347.4 L1331.5,346.9 L1335.5,346.4 L1339.5,345.8 L1343.5,345.3 L1347.5,344.8 L1351.5,344.3 L1355.5,343.8 L1359.5,343.3 L1363.5,342.8 L1367.5,342.4 L1371.5,341.9 L1375.5,341.4 L1379.5,341.0 L1383.5,340.5 L1387.5,340.1 L1391.5,339.7 L1395.5,339.3 L1399.5,338.9 L1403.5,338.6 L1407.5,338.2 L1411.5,337.9 L1415.5,337.6 L1419.5,337.3 L1423.5,337.1 L1427.5,336.8 L1431.5,336.6 L1435.5,336.4 L1439.5,336.2 L1443.5,336.1 L1447.5,336.0 L1451.5,335.8 L1455.5,335.7 L1459.5,335.7 L1463.5,335.6 L1467.5,335.6 L1471.5,335.6 L1475.5,335.6 L1479.5,335.6 L1483.5,335.7 L1487.5,335.7 L1491.5,335.8 L1495.5,336.0 L1499.5,336.1 L1503.5,336.3 L1507.5,336.5 L1511.5,336.7 L1515.5,336.9 L1519.5,337.2 L1523.5,337.5 L1527.5,337.8 L1531.5,338.2 L1535.5,338.5 L1539.5,338.9 L1543.5,339.3 L1547.5,339.8 L1551.5,340.2 L1555.5,340.6 L1559.5,341.1 L1563.5,341.6 L1567.5,342.0 L1571.5,342.5 L1575.5,343.0 L1579.5,343.5 L1583.5,344.0 L1587.5,344.5 L1591.5,345.0 L1595.5,345.5 L1599.5,346.0 L1603.5,346.4 L1607.5,346.9 L1611.5,347.4 L1615.5,347.9 L1619.5,348.4 L1623.5,348.8 L1627.5,349.3 L1631.5,349.8 L1635.5,350.2 L1639.5,350.7 L1643.5,351.1 L1647.5,351.6 L1651.5,352.0 L1655.5,352.4 L1659.5,352.8 L1663.5,353.2 L1667.5,353.6 L1671.5,354.0 L1675.5,354.3 L1679.5,354.7 L1683.5,355.0 L1687.5,355.3 L1691.5,355.6 L1695.5,355.8 L1699.5,356.1 L1703.5,356.3 L1707.5,356.5 L1711.5,356.7 L1715.5,356.9 L1719.5,357.0 L1723.5,357.2 L1727.5,357.3 L1731.5,357.4 L1735.5,357.4 L1739.5,357.5 L1743.5,357.5 L1747.5,357.5 L1751.5,357.5 L1755.5,357.5 L1759.5,357.5 L1763.5,357.5 L1767.5,357.4 L1771.5,357.3 L1775.5,357.2 L1779.5,357.1 L1783.5,357.0 L1787.5,356.9 L1791.5,356.8 L1795.5,356.7 L1799.5,356.5 L1803.5,356.4 L1807.5,356.2 L1811.5,356.1 L1815.5,355.9 L1819.5,355.8 L1823.5,355.6 L1827.5,355.4 L1831.5,355.3 L1835.5,355.1 L1839.5,354.9 L1843.5,354.8 L1847.5,354.6 L1851.5,354.5 L1855.5,354.3 L1859.5,354.2 L1863.5,354.0 L1867.5,353.9 L1871.5,353.7 L1875.5,353.6 L1879.5,353.4 L1883.5,353.3 L1887.5,353.2 L1891.5,353.0 L1895.5,352.9 L1899.5,352.8 L1903.5,352.6 L1907.5,352.5 L1911.5,352.4 L1915.5,352.2 L1919.5,352.1 L1923.5,352.0 L1927.5,351.9 L1931.5,351.7 L1935.5,351.6 L1939.5,351.5 L1943.5,351.3 L1945.0,351.3" stroke="#fff" stroke-width="17" fill="none"/>
<path d="M1199.5,361.0 L1203.5,360.6 L1207.5,360.2 L1211.5,359.9 L1215.5,359.5 L1219.5,359.1 L1223.5,358.7 L1227.5,358.4 L1231.5,358.0 L1235.5,357.6 L1239.5,357.2 L1243.5,356.8 L1247.5,356.4 L1251.5,356.0 L1255.5,355.6 L1259.5,355.2 L1263.5,354.8 L1267.5,354.4 L1271.5,354.0 L1275.5,353.5 L1279.5,353.1 L1283.5,352.7 L1287.5,352.2 L1291.5,351.8 L1295.5,351.3 L1299.5,350.8 L1303.5,350.4 L1307.5,349.9 L1311.5,349.4 L1315.5,348.9 L1319.5,348.4 L1323.5,347.9 L1327.5,347.4 L1331.5,346.9 L1335.5,346.4 L1339.5,345.8 L1343.5,345.3 L1347.5,344.8 L1351.5,344.3 L1355.5,343.8 L1359.5,343.3 L1363.5,342.8 L1367.5,342.4 L1371.5,341.9 L1375.5,341.4 L1379.5,341.0 L1383.5,340.5 L1387.5,340.1 L1391.5,339.7 L1395.5,339.3 L1399.5,338.9 L1403.5,338.6 L1407.5,338.2 L1411.5,337.9 L1415.5,337.6 L1419.5,337.3 L1423.5,337.1 L1427.5,336.8 L1431.5,336.6 L1435.5,336.4 L1439.5,336.2 L1443.5,336.1 L1447.5,336.0 L1451.5,335.8 L1455.5,335.7 L1459.5,335.7 L1463.5,335.6 L1467.5,335.6 L1471.5,335.6 L1475.5,335.6 L1479.5,335.6 L1483.5,335.7 L1487.5,335.7 L1491.5,335.8 L1495.5,336.0 L1499.5,336.1 L1503.5,336.3 L1507.5,336.5 L1511.5,336.7 L1515.5,336.9 L1519.5,337.2 L1523.5,337.5 L1527.5,337.8 L1531.5,338.2 L1535.5,338.5 L1539.5,338.9 L1543.5,339.3 L1547.5,339.8 L1551.5,340.2 L1555.5,340.6 L1559.5,341.1 L1563.5,341.6 L1567.5,342.0 L1571.5,342.5 L1575.5,343.0 L1579.5,343.5 L1583.5,344.0 L1587.5,344.5 L1591.5,345.0 L1595.5,345.5 L1599.5,346.0 L1603.5,346.4 L1607.5,346.9 L1611.5,347.4 L1615.5,347.9 L1619.5,348.4 L1623.5,348.8 L1627.5,349.3 L1631.5,349.8 L1635.5,350.2 L1639.5,350.7 L1643.5,351.1 L1647.5,351.6 L1651.5,352.0 L1655.5,352.4 L1659.5,352.8 L1663.5,353.2 L1667.5,353.6 L1671.5,354.0 L1675.5,354.3 L1679.5,354.7 L1683.5,355.0 L1687.5,355.3 L1691.5,355.6 L1695.5,355.8 L1699.5,356.1 L1703.5,356.3 L1707.5,356.5 L1711.5,356.7 L1715.5,356.9 L1719.5,357.0 L1723.5,357.2 L1727.5,357.3 L1731.5,357.4 L1735.5,357.4 L1739.5,357.5 L1743.5,357.5 L1747.5,357.5 L1751.5,357.5 L1755.5,357.5 L1759.5,357.5 L1763.5,357.5 L1767.5,357.4 L1771.5,357.3 L1775.5,357.2 L1779.5,357.1 L1783.5,357.0 L1787.5,356.9 L1791.5,356.8 L1795.5,356.7 L1799.5,356.5 L1803.5,356.4 L1807.5,356.2 L1811.5,356.1 L1815.5,355.9 L1819.5,355.8 L1823.5,355.6 L1827.5,355.4 L1831.5,355.3 L1835.5,355.1 L1839.5,354.9 L1843.5,354.8 L1847.5,354.6 L1851.5,354.5 L1855.5,354.3 L1859.5,354.2 L1863.5,354.0 L1867.5,353.9 L1871.5,353.7 L1875.5,353.6 L1879.5,353.4 L1883.5,353.3 L1887.5,353.2 L1891.5,353.0 L1895.5,352.9 L1899.5,352.8 L1903.5,352.6 L1907.5,352.5 L1911.5,352.4 L1915.5,352.2 L1919.5,352.1 L1923.5,352.0 L1927.5,351.9 L1931.5,351.7 L1935.5,351.6 L1939.5,351.5 L1943.5,351.3 L1945.0,351.3" stroke="#4E79A7" stroke-width="9" fill="none"/>
<rect x="70" y="319.6" width="210" height="66.6" rx="6" fill="#fff" fill-opacity="0.6"/>
<rect x="70" y="386.2" width="288" height="65.8" rx="6" fill="#fff" fill-opacity="0.6"/>
<path d="M100,332.6 L111.2,343 L102.1,343 L102.1,371 L97.9,371 L97.9,343 L88.8,343 Z M246.9,332.6 L258.1,343 L249.0,343 L249.0,371 L244.8,371 L244.8,343 L235.70000000000002,343 Z M97.9,397.9 L102.1,397.9 L102.1,426.1 L111.2,426.1 L100,436.5 L88.8,426.1 L97.9,426.1 Z M322.9,397.9 L327.1,397.9 L327.1,426.1 L336.2,426.1 L325,436.5 L313.8,426.1 L322.9,426.1 Z" fill="#000"/>
<text x="117.7" y="371.2" font-family="Liberation Sans, sans-serif" font-size="53" font-weight="bold" fill="#000" textLength="111.9" lengthAdjust="spacingAndGlyphs">High</text>
<text x="117.7" y="437.6" font-family="Liberation Sans, sans-serif" font-size="53" font-weight="bold" fill="#000" textLength="188.2" lengthAdjust="spacingAndGlyphs">Medium</text>
<text x="44" y="944.8" font-family="Liberation Sans, sans-serif" font-size="36" fill="#4D4D4D" text-anchor="end">4</text>
<text x="44" y="762.8" font-family="Liberation Sans, sans-serif" font-size="36" fill="#4D4D4D" text-anchor="end">5</text>
<text x="44" y="580.8" font-family="Liberation Sans, sans-serif" font-size="36" fill="#4D4D4D" text-anchor="end">6</text>
<text x="44" y="398.8" font-family="Liberation Sans, sans-serif" font-size="36" fill="#4D4D4D" text-anchor="end">7</text>
<text x="44" y="216.8" font-family="Liberation Sans, sans-serif" font-size="36" fill="#4D4D4D" text-anchor="end">8</text>
<text x="129.3" y="1057" font-family="Liberation Sans, sans-serif" font-size="36" fill="#4D4D4D" text-anchor="middle" textLength="83.3" lengthAdjust="spacingAndGlyphs">2006</text>
<text x="236.3" y="1098.8" font-family="Liberation Sans, sans-serif" font-size="36" fill="#4D4D4D" text-anchor="middle" textLength="83.3" lengthAdjust="spacingAndGlyphs">2007</text>
<text x="343.2" y="1057" font-family="Liberation Sans, sans-serif" font-size="36" fill="#4D4D4D" text-anchor="middle" textLength="83.3" lengthAdjust="spacingAndGlyphs">2008</text>
<text x="450.2" y="1098.8" font-family="Liberation Sans, sans-serif" font-size="36" fill="#4D4D4D" text-anchor="middle" textLength="83.3" lengthAdjust="spacingAndGlyphs">2009</text>
<text x="557.1" y="1057" font-family="Liberation Sans, sans-serif" font-size="36" fill="#4D4D4D" text-anchor="middle" textLength="83.3" lengthAdjust="spacingAndGlyphs">2010</text>
<text x="664.1" y="1098.8" font-family="Liberation Sans, sans-serif" font-size="36" fill="#4D4D4D" text-anchor="middle" textLength="83.3" lengthAdjust="spacingAndGlyphs">2011</text>
<text x="771.1" y="1057" font-family="Liberation Sans, sans-serif" font-size="36" fill="#4D4D4D" text-anchor="middle" textLength="83.3" lengthAdjust="spacingAndGlyphs">2012</text>
<text x="878.0" y="1098.8" font-family="Liberation Sans, sans-serif" font-size="36" fill="#4D4D4D" text-anchor="middle" textLength="83.3" lengthAdjust="spacingAndGlyphs">2013</text>
<text x="985.0" y="1057" font-family="Liberation Sans, sans-serif" font-size="36" fill="#4D4D4D" text-anchor="middle" textLength="83.3" lengthAdjust="spacingAndGlyphs">2014</text>
<text x="1091.9" y="1098.8" font-family="Liberation Sans, sans-serif" font-size="36" fill="#4D4D4D" text-anchor="middle" textLength="83.3" lengthAdjust="spacingAndGlyphs">2015</text>
<text x="1198.9" y="1057" font-family="Liberation Sans, sans-serif" font-size="36" fill="#4D4D4D" text-anchor="middle" textLength="83.3" lengthAdjust="spacingAndGlyphs">2016</text>
<text x="1305.9" y="1098.8" font-family="Liberation Sans, sans-serif" font-size="36" fill="#4D4D4D" text-anchor="middle" textLength="83.3" lengthAdjust="spacingAndGlyphs">2017</text>
<text x="1412.8" y="1057" font-family="Liberation Sans, sans-serif" font-size="36" fill="#4D4D4D" text-anchor="middle" textLength="83.3" lengthAdjust="spacingAndGlyphs">2018</text>
<text x="1519.8" y="1098.8" font-family="Liberation Sans, sans-serif" font-size="36" fill="#4D4D4D" text-anchor="middle" textLength="83.3" lengthAdjust="spacingAndGlyphs">2019</text>
<text x="1626.7" y="1057" font-family="Liberation Sans, sans-serif" font-size="36" fill="#4D4D4D" text-anchor="middle" textLength="83.3" lengthAdjust="spacingAndGlyphs">2020</text>
<text x="1733.7" y="1098.8" font-family="Liberation Sans, sans-serif" font-size="36" fill="#4D4D4D" text-anchor="middle" textLength="83.3" lengthAdjust="spacingAndGlyphs">2021</text>
<text x="1840.7" y="1057" font-family="Liberation Sans, sans-serif" font-size="36" fill="#4D4D4D" text-anchor="middle" textLength="83.3" lengthAdjust="spacingAndGlyphs">2022</text>
<text x="1947.6" y="1098.8" font-family="Liberation Sans, sans-serif" font-size="36" fill="#4D4D4D" text-anchor="middle" textLength="83.3" lengthAdjust="spacingAndGlyphs">2023</text>
<text x="2054.6" y="1057" font-family="Liberation Sans, sans-serif" font-size="36" fill="#4D4D4D" text-anchor="middle" textLength="83.3" lengthAdjust="spacingAndGlyphs">2024</text>
<text x="63.2" y="55" font-family="Liberation Sans, sans-serif" font-size="46.5" fill="#000" textLength="630.7" lengthAdjust="spacingAndGlyphs">Mean Weekly CVSS base score</text>
<text x="1071" y="1149" font-family="Liberation Sans, sans-serif" font-size="46" fill="#000" text-anchor="middle">Publication Date</text>
<text x="1955.5" y="376.8" font-family="Liberation Sans, sans-serif" font-size="33" font-weight="bold" textLength="119.6" lengthAdjust="spacingAndGlyphs" fill="#4E79A7">CVSSv3</text>
<text x="1955.5" y="683.4" font-family="Liberation Sans, sans-serif" font-size="33" font-weight="bold" textLength="119.6" lengthAdjust="spacingAndGlyphs" fill="#F28E2B">CVSSv2</text>
</svg></body></html>
